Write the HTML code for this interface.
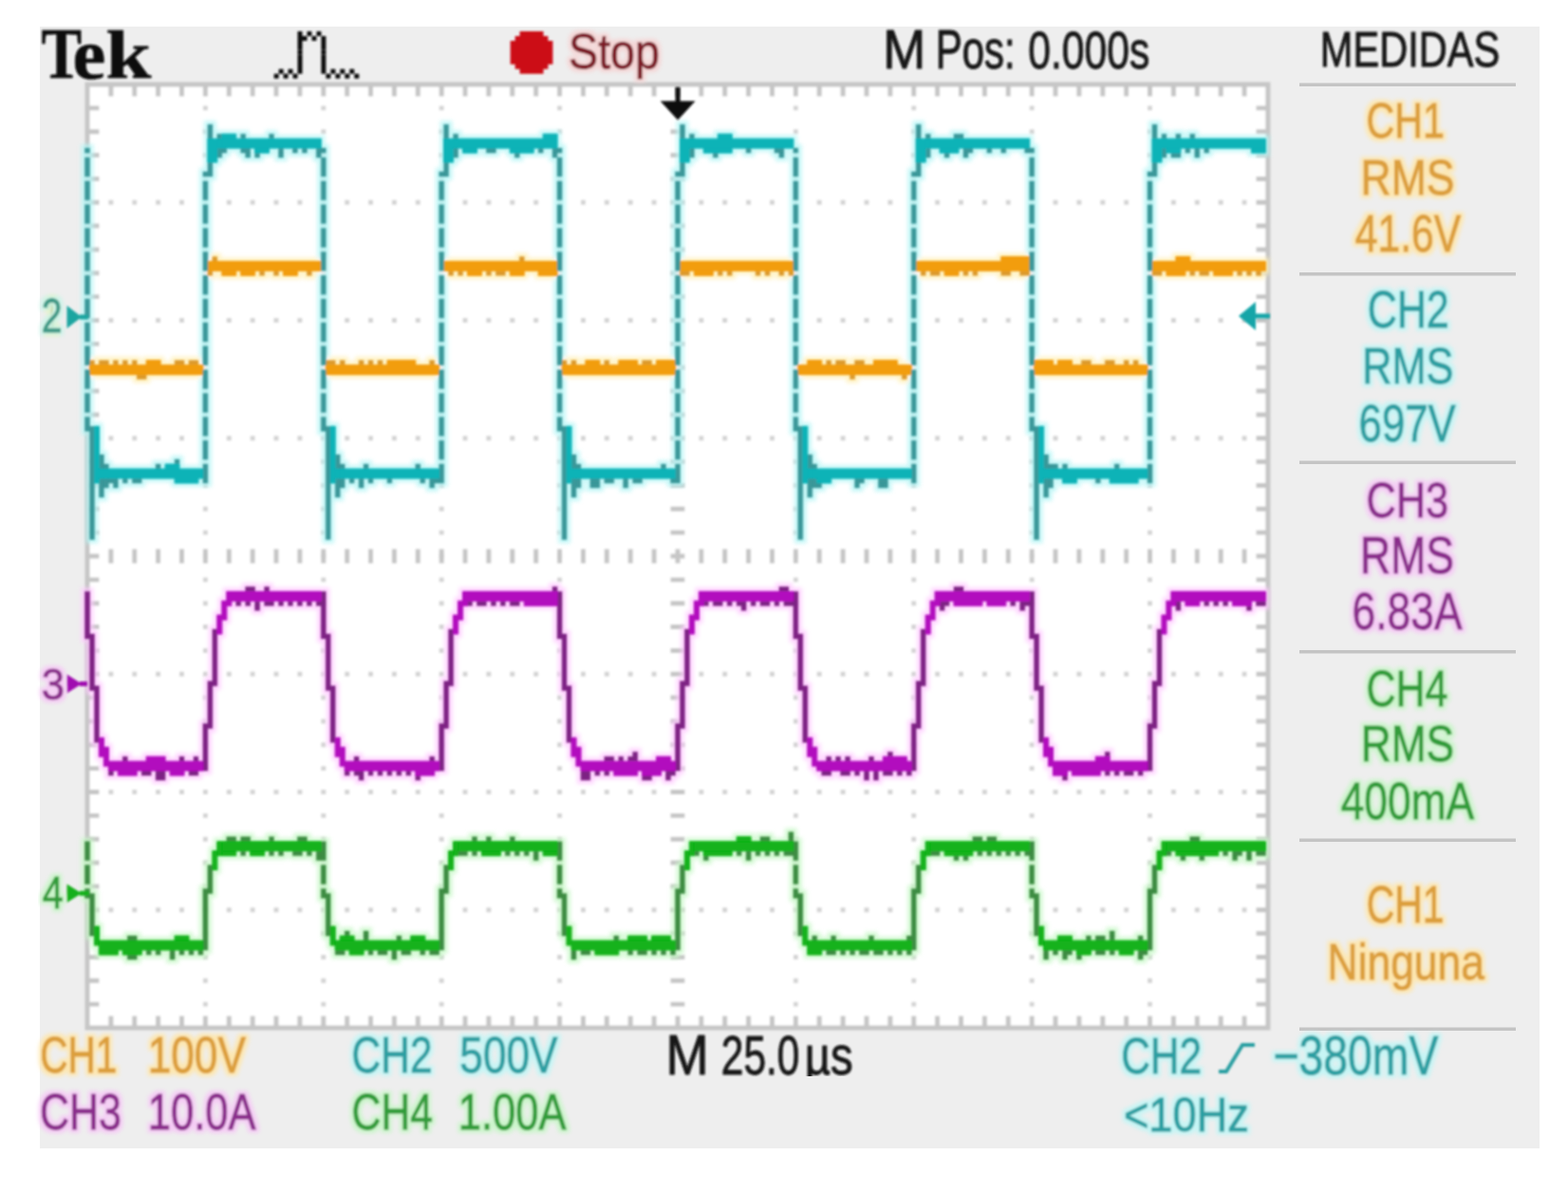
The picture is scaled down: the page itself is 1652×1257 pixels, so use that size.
<!DOCTYPE html>
<html><head><meta charset="utf-8"><title>Tek scope</title>
<style>html,body{margin:0;padding:0;background:#fff;width:1652px;height:1257px;overflow:hidden}svg{display:block}</style>
</head><body>
<svg width="1652" height="1257" viewBox="0 0 1652 1257">
<defs>
<clipPath id="muclip"><rect x="840" y="1080" width="70" height="54"/></clipPath>
<filter id="hbff6f6" x="-20%" y="-20%" width="140%" height="140%"><feMorphology in="SourceAlpha" operator="dilate" radius="3" result="d"/><feGaussianBlur in="d" stdDeviation="2" result="b"/><feFlood flood-color="#bff6f6" flood-opacity="0.9"/><feComposite in2="b" operator="in" result="h"/><feGaussianBlur in="SourceGraphic" stdDeviation="1.05" result="s"/><feMerge><feMergeNode in="h"/><feMergeNode in="s"/></feMerge></filter><filter id="hc6f6c6" x="-20%" y="-20%" width="140%" height="140%"><feMorphology in="SourceAlpha" operator="dilate" radius="3" result="d"/><feGaussianBlur in="d" stdDeviation="2" result="b"/><feFlood flood-color="#c6f6c6" flood-opacity="0.9"/><feComposite in2="b" operator="in" result="h"/><feGaussianBlur in="SourceGraphic" stdDeviation="1.05" result="s"/><feMerge><feMergeNode in="h"/><feMergeNode in="s"/></feMerge></filter><filter id="hc8f4e8" x="-20%" y="-20%" width="140%" height="140%"><feMorphology in="SourceAlpha" operator="dilate" radius="3" result="d"/><feGaussianBlur in="d" stdDeviation="2" result="b"/><feFlood flood-color="#c8f4e8" flood-opacity="0.9"/><feComposite in2="b" operator="in" result="h"/><feGaussianBlur in="SourceGraphic" stdDeviation="1.05" result="s"/><feMerge><feMergeNode in="h"/><feMergeNode in="s"/></feMerge></filter><filter id="hf6c6f6" x="-20%" y="-20%" width="140%" height="140%"><feMorphology in="SourceAlpha" operator="dilate" radius="3" result="d"/><feGaussianBlur in="d" stdDeviation="2" result="b"/><feFlood flood-color="#f6c6f6" flood-opacity="0.9"/><feComposite in2="b" operator="in" result="h"/><feGaussianBlur in="SourceGraphic" stdDeviation="1.05" result="s"/><feMerge><feMergeNode in="h"/><feMergeNode in="s"/></feMerge></filter><filter id="hf6d2d2" x="-20%" y="-20%" width="140%" height="140%"><feMorphology in="SourceAlpha" operator="dilate" radius="3" result="d"/><feGaussianBlur in="d" stdDeviation="2" result="b"/><feFlood flood-color="#f6d2d2" flood-opacity="0.9"/><feComposite in2="b" operator="in" result="h"/><feGaussianBlur in="SourceGraphic" stdDeviation="1.05" result="s"/><feMerge><feMergeNode in="h"/><feMergeNode in="s"/></feMerge></filter><filter id="hffe6a8" x="-20%" y="-20%" width="140%" height="140%"><feMorphology in="SourceAlpha" operator="dilate" radius="3" result="d"/><feGaussianBlur in="d" stdDeviation="2" result="b"/><feFlood flood-color="#ffe6a8" flood-opacity="0.9"/><feComposite in2="b" operator="in" result="h"/><feGaussianBlur in="SourceGraphic" stdDeviation="1.05" result="s"/><feMerge><feMergeNode in="h"/><feMergeNode in="s"/></feMerge></filter><filter id="hfff0b0" x="-20%" y="-20%" width="140%" height="140%"><feMorphology in="SourceAlpha" operator="dilate" radius="3" result="d"/><feGaussianBlur in="d" stdDeviation="2" result="b"/><feFlood flood-color="#fff0b0" flood-opacity="0.9"/><feComposite in2="b" operator="in" result="h"/><feGaussianBlur in="SourceGraphic" stdDeviation="1.05" result="s"/><feMerge><feMergeNode in="h"/><feMergeNode in="s"/></feMerge></filter>
<filter id="soft" x="-5%" y="-5%" width="110%" height="110%"><feGaussianBlur stdDeviation="1.05"/></filter>
<filter id="halo" x="-5%" y="-5%" width="110%" height="110%"><feMorphology operator="dilate" radius="3.5"/><feGaussianBlur stdDeviation="2"/></filter>
</defs>
<rect width="1652" height="1257" fill="#fff"/>
<rect x="42" y="28" width="1580" height="1182" fill="#eeeeee"/>
<g filter="url(#soft)">
<rect x="92.0" y="89.0" width="1243.9" height="994.0" fill="#fff"/>
<path d="M213.9 111.4H218.9V116.3H213.9ZM213.9 136.2H218.9V141.2H213.9ZM213.9 161.1H218.9V166.0H213.9ZM213.9 185.9H218.9V190.9H213.9ZM213.9 210.8H218.9V215.7H213.9ZM213.9 235.6H218.9V240.6H213.9ZM213.9 260.5H218.9V265.4H213.9ZM213.9 285.3H218.9V290.3H213.9ZM213.9 310.2H218.9V315.1H213.9ZM213.9 335.0H218.9V340.0H213.9ZM213.9 359.9H218.9V364.8H213.9ZM213.9 384.7H218.9V389.7H213.9ZM213.9 409.6H218.9V414.5H213.9ZM213.9 434.4H218.9V439.4H213.9ZM213.9 459.3H218.9V464.2H213.9ZM213.9 484.1H218.9V489.1H213.9ZM213.9 509.0H218.9V513.9H213.9ZM213.9 533.8H218.9V538.8H213.9ZM213.9 558.7H218.9V563.6H213.9ZM213.9 583.5H218.9V588.5H213.9ZM213.9 608.4H218.9V613.3H213.9ZM213.9 633.2H218.9V638.2H213.9ZM213.9 658.1H218.9V663.0H213.9ZM213.9 682.9H218.9V687.9H213.9ZM213.9 707.8H218.9V712.7H213.9ZM213.9 732.6H218.9V737.6H213.9ZM213.9 757.5H218.9V762.4H213.9ZM213.9 782.3H218.9V787.3H213.9ZM213.9 807.2H218.9V812.1H213.9ZM213.9 832.0H218.9V837.0H213.9ZM213.9 856.9H218.9V861.8H213.9ZM213.9 881.7H218.9V886.7H213.9ZM213.9 906.6H218.9V911.5H213.9ZM213.9 931.4H218.9V936.4H213.9ZM213.9 956.3H218.9V961.2H213.9ZM213.9 981.1H218.9V986.1H213.9ZM213.9 1006.0H218.9V1010.9H213.9ZM213.9 1030.8H218.9V1035.8H213.9ZM213.9 1055.7H218.9V1060.6H213.9ZM338.3 111.4H343.3V116.3H338.3ZM338.3 136.2H343.3V141.2H338.3ZM338.3 161.1H343.3V166.0H338.3ZM338.3 185.9H343.3V190.9H338.3ZM338.3 210.8H343.3V215.7H338.3ZM338.3 235.6H343.3V240.6H338.3ZM338.3 260.5H343.3V265.4H338.3ZM338.3 285.3H343.3V290.3H338.3ZM338.3 310.2H343.3V315.1H338.3ZM338.3 335.0H343.3V340.0H338.3ZM338.3 359.9H343.3V364.8H338.3ZM338.3 384.7H343.3V389.7H338.3ZM338.3 409.6H343.3V414.5H338.3ZM338.3 434.4H343.3V439.4H338.3ZM338.3 459.3H343.3V464.2H338.3ZM338.3 484.1H343.3V489.1H338.3ZM338.3 509.0H343.3V513.9H338.3ZM338.3 533.8H343.3V538.8H338.3ZM338.3 558.7H343.3V563.6H338.3ZM338.3 583.5H343.3V588.5H338.3ZM338.3 608.4H343.3V613.3H338.3ZM338.3 633.2H343.3V638.2H338.3ZM338.3 658.1H343.3V663.0H338.3ZM338.3 682.9H343.3V687.9H338.3ZM338.3 707.8H343.3V712.7H338.3ZM338.3 732.6H343.3V737.6H338.3ZM338.3 757.5H343.3V762.4H338.3ZM338.3 782.3H343.3V787.3H338.3ZM338.3 807.2H343.3V812.1H338.3ZM338.3 832.0H343.3V837.0H338.3ZM338.3 856.9H343.3V861.8H338.3ZM338.3 881.7H343.3V886.7H338.3ZM338.3 906.6H343.3V911.5H338.3ZM338.3 931.4H343.3V936.4H338.3ZM338.3 956.3H343.3V961.2H338.3ZM338.3 981.1H343.3V986.1H338.3ZM338.3 1006.0H343.3V1010.9H338.3ZM338.3 1030.8H343.3V1035.8H338.3ZM338.3 1055.7H343.3V1060.6H338.3ZM462.7 111.4H467.7V116.3H462.7ZM462.7 136.2H467.7V141.2H462.7ZM462.7 161.1H467.7V166.0H462.7ZM462.7 185.9H467.7V190.9H462.7ZM462.7 210.8H467.7V215.7H462.7ZM462.7 235.6H467.7V240.6H462.7ZM462.7 260.5H467.7V265.4H462.7ZM462.7 285.3H467.7V290.3H462.7ZM462.7 310.2H467.7V315.1H462.7ZM462.7 335.0H467.7V340.0H462.7ZM462.7 359.9H467.7V364.8H462.7ZM462.7 384.7H467.7V389.7H462.7ZM462.7 409.6H467.7V414.5H462.7ZM462.7 434.4H467.7V439.4H462.7ZM462.7 459.3H467.7V464.2H462.7ZM462.7 484.1H467.7V489.1H462.7ZM462.7 509.0H467.7V513.9H462.7ZM462.7 533.8H467.7V538.8H462.7ZM462.7 558.7H467.7V563.6H462.7ZM462.7 583.5H467.7V588.5H462.7ZM462.7 608.4H467.7V613.3H462.7ZM462.7 633.2H467.7V638.2H462.7ZM462.7 658.1H467.7V663.0H462.7ZM462.7 682.9H467.7V687.9H462.7ZM462.7 707.8H467.7V712.7H462.7ZM462.7 732.6H467.7V737.6H462.7ZM462.7 757.5H467.7V762.4H462.7ZM462.7 782.3H467.7V787.3H462.7ZM462.7 807.2H467.7V812.1H462.7ZM462.7 832.0H467.7V837.0H462.7ZM462.7 856.9H467.7V861.8H462.7ZM462.7 881.7H467.7V886.7H462.7ZM462.7 906.6H467.7V911.5H462.7ZM462.7 931.4H467.7V936.4H462.7ZM462.7 956.3H467.7V961.2H462.7ZM462.7 981.1H467.7V986.1H462.7ZM462.7 1006.0H467.7V1010.9H462.7ZM462.7 1030.8H467.7V1035.8H462.7ZM462.7 1055.7H467.7V1060.6H462.7ZM587.1 111.4H592.1V116.3H587.1ZM587.1 136.2H592.1V141.2H587.1ZM587.1 161.1H592.1V166.0H587.1ZM587.1 185.9H592.1V190.9H587.1ZM587.1 210.8H592.1V215.7H587.1ZM587.1 235.6H592.1V240.6H587.1ZM587.1 260.5H592.1V265.4H587.1ZM587.1 285.3H592.1V290.3H587.1ZM587.1 310.2H592.1V315.1H587.1ZM587.1 335.0H592.1V340.0H587.1ZM587.1 359.9H592.1V364.8H587.1ZM587.1 384.7H592.1V389.7H587.1ZM587.1 409.6H592.1V414.5H587.1ZM587.1 434.4H592.1V439.4H587.1ZM587.1 459.3H592.1V464.2H587.1ZM587.1 484.1H592.1V489.1H587.1ZM587.1 509.0H592.1V513.9H587.1ZM587.1 533.8H592.1V538.8H587.1ZM587.1 558.7H592.1V563.6H587.1ZM587.1 583.5H592.1V588.5H587.1ZM587.1 608.4H592.1V613.3H587.1ZM587.1 633.2H592.1V638.2H587.1ZM587.1 658.1H592.1V663.0H587.1ZM587.1 682.9H592.1V687.9H587.1ZM587.1 707.8H592.1V712.7H587.1ZM587.1 732.6H592.1V737.6H587.1ZM587.1 757.5H592.1V762.4H587.1ZM587.1 782.3H592.1V787.3H587.1ZM587.1 807.2H592.1V812.1H587.1ZM587.1 832.0H592.1V837.0H587.1ZM587.1 856.9H592.1V861.8H587.1ZM587.1 881.7H592.1V886.7H587.1ZM587.1 906.6H592.1V911.5H587.1ZM587.1 931.4H592.1V936.4H587.1ZM587.1 956.3H592.1V961.2H587.1ZM587.1 981.1H592.1V986.1H587.1ZM587.1 1006.0H592.1V1010.9H587.1ZM587.1 1030.8H592.1V1035.8H587.1ZM587.1 1055.7H592.1V1060.6H587.1ZM835.9 111.4H840.8V116.3H835.9ZM835.9 136.2H840.8V141.2H835.9ZM835.9 161.1H840.8V166.0H835.9ZM835.9 185.9H840.8V190.9H835.9ZM835.9 210.8H840.8V215.7H835.9ZM835.9 235.6H840.8V240.6H835.9ZM835.9 260.5H840.8V265.4H835.9ZM835.9 285.3H840.8V290.3H835.9ZM835.9 310.2H840.8V315.1H835.9ZM835.9 335.0H840.8V340.0H835.9ZM835.9 359.9H840.8V364.8H835.9ZM835.9 384.7H840.8V389.7H835.9ZM835.9 409.6H840.8V414.5H835.9ZM835.9 434.4H840.8V439.4H835.9ZM835.9 459.3H840.8V464.2H835.9ZM835.9 484.1H840.8V489.1H835.9ZM835.9 509.0H840.8V513.9H835.9ZM835.9 533.8H840.8V538.8H835.9ZM835.9 558.7H840.8V563.6H835.9ZM835.9 583.5H840.8V588.5H835.9ZM835.9 608.4H840.8V613.3H835.9ZM835.9 633.2H840.8V638.2H835.9ZM835.9 658.1H840.8V663.0H835.9ZM835.9 682.9H840.8V687.9H835.9ZM835.9 707.8H840.8V712.7H835.9ZM835.9 732.6H840.8V737.6H835.9ZM835.9 757.5H840.8V762.4H835.9ZM835.9 782.3H840.8V787.3H835.9ZM835.9 807.2H840.8V812.1H835.9ZM835.9 832.0H840.8V837.0H835.9ZM835.9 856.9H840.8V861.8H835.9ZM835.9 881.7H840.8V886.7H835.9ZM835.9 906.6H840.8V911.5H835.9ZM835.9 931.4H840.8V936.4H835.9ZM835.9 956.3H840.8V961.2H835.9ZM835.9 981.1H840.8V986.1H835.9ZM835.9 1006.0H840.8V1010.9H835.9ZM835.9 1030.8H840.8V1035.8H835.9ZM835.9 1055.7H840.8V1060.6H835.9ZM960.3 111.4H965.2V116.3H960.3ZM960.3 136.2H965.2V141.2H960.3ZM960.3 161.1H965.2V166.0H960.3ZM960.3 185.9H965.2V190.9H960.3ZM960.3 210.8H965.2V215.7H960.3ZM960.3 235.6H965.2V240.6H960.3ZM960.3 260.5H965.2V265.4H960.3ZM960.3 285.3H965.2V290.3H960.3ZM960.3 310.2H965.2V315.1H960.3ZM960.3 335.0H965.2V340.0H960.3ZM960.3 359.9H965.2V364.8H960.3ZM960.3 384.7H965.2V389.7H960.3ZM960.3 409.6H965.2V414.5H960.3ZM960.3 434.4H965.2V439.4H960.3ZM960.3 459.3H965.2V464.2H960.3ZM960.3 484.1H965.2V489.1H960.3ZM960.3 509.0H965.2V513.9H960.3ZM960.3 533.8H965.2V538.8H960.3ZM960.3 558.7H965.2V563.6H960.3ZM960.3 583.5H965.2V588.5H960.3ZM960.3 608.4H965.2V613.3H960.3ZM960.3 633.2H965.2V638.2H960.3ZM960.3 658.1H965.2V663.0H960.3ZM960.3 682.9H965.2V687.9H960.3ZM960.3 707.8H965.2V712.7H960.3ZM960.3 732.6H965.2V737.6H960.3ZM960.3 757.5H965.2V762.4H960.3ZM960.3 782.3H965.2V787.3H960.3ZM960.3 807.2H965.2V812.1H960.3ZM960.3 832.0H965.2V837.0H960.3ZM960.3 856.9H965.2V861.8H960.3ZM960.3 881.7H965.2V886.7H960.3ZM960.3 906.6H965.2V911.5H960.3ZM960.3 931.4H965.2V936.4H960.3ZM960.3 956.3H965.2V961.2H960.3ZM960.3 981.1H965.2V986.1H960.3ZM960.3 1006.0H965.2V1010.9H960.3ZM960.3 1030.8H965.2V1035.8H960.3ZM960.3 1055.7H965.2V1060.6H960.3ZM1084.7 111.4H1089.6V116.3H1084.7ZM1084.7 136.2H1089.6V141.2H1084.7ZM1084.7 161.1H1089.6V166.0H1084.7ZM1084.7 185.9H1089.6V190.9H1084.7ZM1084.7 210.8H1089.6V215.7H1084.7ZM1084.7 235.6H1089.6V240.6H1084.7ZM1084.7 260.5H1089.6V265.4H1084.7ZM1084.7 285.3H1089.6V290.3H1084.7ZM1084.7 310.2H1089.6V315.1H1084.7ZM1084.7 335.0H1089.6V340.0H1084.7ZM1084.7 359.9H1089.6V364.8H1084.7ZM1084.7 384.7H1089.6V389.7H1084.7ZM1084.7 409.6H1089.6V414.5H1084.7ZM1084.7 434.4H1089.6V439.4H1084.7ZM1084.7 459.3H1089.6V464.2H1084.7ZM1084.7 484.1H1089.6V489.1H1084.7ZM1084.7 509.0H1089.6V513.9H1084.7ZM1084.7 533.8H1089.6V538.8H1084.7ZM1084.7 558.7H1089.6V563.6H1084.7ZM1084.7 583.5H1089.6V588.5H1084.7ZM1084.7 608.4H1089.6V613.3H1084.7ZM1084.7 633.2H1089.6V638.2H1084.7ZM1084.7 658.1H1089.6V663.0H1084.7ZM1084.7 682.9H1089.6V687.9H1084.7ZM1084.7 707.8H1089.6V712.7H1084.7ZM1084.7 732.6H1089.6V737.6H1084.7ZM1084.7 757.5H1089.6V762.4H1084.7ZM1084.7 782.3H1089.6V787.3H1084.7ZM1084.7 807.2H1089.6V812.1H1084.7ZM1084.7 832.0H1089.6V837.0H1084.7ZM1084.7 856.9H1089.6V861.8H1084.7ZM1084.7 881.7H1089.6V886.7H1084.7ZM1084.7 906.6H1089.6V911.5H1084.7ZM1084.7 931.4H1089.6V936.4H1084.7ZM1084.7 956.3H1089.6V961.2H1084.7ZM1084.7 981.1H1089.6V986.1H1084.7ZM1084.7 1006.0H1089.6V1010.9H1084.7ZM1084.7 1030.8H1089.6V1035.8H1084.7ZM1084.7 1055.7H1089.6V1060.6H1084.7ZM1209.0 111.4H1214.0V116.3H1209.0ZM1209.0 136.2H1214.0V141.2H1209.0ZM1209.0 161.1H1214.0V166.0H1209.0ZM1209.0 185.9H1214.0V190.9H1209.0ZM1209.0 210.8H1214.0V215.7H1209.0ZM1209.0 235.6H1214.0V240.6H1209.0ZM1209.0 260.5H1214.0V265.4H1209.0ZM1209.0 285.3H1214.0V290.3H1209.0ZM1209.0 310.2H1214.0V315.1H1209.0ZM1209.0 335.0H1214.0V340.0H1209.0ZM1209.0 359.9H1214.0V364.8H1209.0ZM1209.0 384.7H1214.0V389.7H1209.0ZM1209.0 409.6H1214.0V414.5H1209.0ZM1209.0 434.4H1214.0V439.4H1209.0ZM1209.0 459.3H1214.0V464.2H1209.0ZM1209.0 484.1H1214.0V489.1H1209.0ZM1209.0 509.0H1214.0V513.9H1209.0ZM1209.0 533.8H1214.0V538.8H1209.0ZM1209.0 558.7H1214.0V563.6H1209.0ZM1209.0 583.5H1214.0V588.5H1209.0ZM1209.0 608.4H1214.0V613.3H1209.0ZM1209.0 633.2H1214.0V638.2H1209.0ZM1209.0 658.1H1214.0V663.0H1209.0ZM1209.0 682.9H1214.0V687.9H1209.0ZM1209.0 707.8H1214.0V712.7H1209.0ZM1209.0 732.6H1214.0V737.6H1209.0ZM1209.0 757.5H1214.0V762.4H1209.0ZM1209.0 782.3H1214.0V787.3H1209.0ZM1209.0 807.2H1214.0V812.1H1209.0ZM1209.0 832.0H1214.0V837.0H1209.0ZM1209.0 856.9H1214.0V861.8H1209.0ZM1209.0 881.7H1214.0V886.7H1209.0ZM1209.0 906.6H1214.0V911.5H1209.0ZM1209.0 931.4H1214.0V936.4H1209.0ZM1209.0 956.3H1214.0V961.2H1209.0ZM1209.0 981.1H1214.0V986.1H1209.0ZM1209.0 1006.0H1214.0V1010.9H1209.0ZM1209.0 1030.8H1214.0V1035.8H1209.0ZM1209.0 1055.7H1214.0V1060.6H1209.0ZM114.4 210.8H119.4V215.7H114.4ZM139.3 210.8H144.2V215.7H139.3ZM164.1 210.8H169.1V215.7H164.1ZM189.0 210.8H194.0V215.7H189.0ZM238.8 210.8H243.8V215.7H238.8ZM263.7 210.8H268.6V215.7H263.7ZM288.5 210.8H293.5V215.7H288.5ZM313.4 210.8H318.4V215.7H313.4ZM363.2 210.8H368.2V215.7H363.2ZM388.1 210.8H393.0V215.7H388.1ZM412.9 210.8H417.9V215.7H412.9ZM437.8 210.8H442.8V215.7H437.8ZM487.6 210.8H492.5V215.7H487.6ZM512.4 210.8H517.4V215.7H512.4ZM537.3 210.8H542.3V215.7H537.3ZM562.2 210.8H567.2V215.7H562.2ZM612.0 210.8H616.9V215.7H612.0ZM636.8 210.8H641.8V215.7H636.8ZM661.7 210.8H666.7V215.7H661.7ZM686.6 210.8H691.6V215.7H686.6ZM736.4 210.8H741.3V215.7H736.4ZM761.2 210.8H766.2V215.7H761.2ZM786.1 210.8H791.1V215.7H786.1ZM811.0 210.8H816.0V215.7H811.0ZM860.7 210.8H865.7V215.7H860.7ZM885.6 210.8H890.6V215.7H885.6ZM910.5 210.8H915.5V215.7H910.5ZM935.4 210.8H940.4V215.7H935.4ZM985.1 210.8H990.1V215.7H985.1ZM1010.0 210.8H1015.0V215.7H1010.0ZM1034.9 210.8H1039.9V215.7H1034.9ZM1059.8 210.8H1064.7V215.7H1059.8ZM1109.5 210.8H1114.5V215.7H1109.5ZM1134.4 210.8H1139.4V215.7H1134.4ZM1159.3 210.8H1164.3V215.7H1159.3ZM1184.2 210.8H1189.1V215.7H1184.2ZM1233.9 210.8H1238.9V215.7H1233.9ZM1258.8 210.8H1263.8V215.7H1258.8ZM1283.7 210.8H1288.7V215.7H1283.7ZM1308.6 210.8H1313.5V215.7H1308.6ZM114.4 335.0H119.4V340.0H114.4ZM139.3 335.0H144.2V340.0H139.3ZM164.1 335.0H169.1V340.0H164.1ZM189.0 335.0H194.0V340.0H189.0ZM238.8 335.0H243.8V340.0H238.8ZM263.7 335.0H268.6V340.0H263.7ZM288.5 335.0H293.5V340.0H288.5ZM313.4 335.0H318.4V340.0H313.4ZM363.2 335.0H368.2V340.0H363.2ZM388.1 335.0H393.0V340.0H388.1ZM412.9 335.0H417.9V340.0H412.9ZM437.8 335.0H442.8V340.0H437.8ZM487.6 335.0H492.5V340.0H487.6ZM512.4 335.0H517.4V340.0H512.4ZM537.3 335.0H542.3V340.0H537.3ZM562.2 335.0H567.2V340.0H562.2ZM612.0 335.0H616.9V340.0H612.0ZM636.8 335.0H641.8V340.0H636.8ZM661.7 335.0H666.7V340.0H661.7ZM686.6 335.0H691.6V340.0H686.6ZM736.4 335.0H741.3V340.0H736.4ZM761.2 335.0H766.2V340.0H761.2ZM786.1 335.0H791.1V340.0H786.1ZM811.0 335.0H816.0V340.0H811.0ZM860.7 335.0H865.7V340.0H860.7ZM885.6 335.0H890.6V340.0H885.6ZM910.5 335.0H915.5V340.0H910.5ZM935.4 335.0H940.4V340.0H935.4ZM985.1 335.0H990.1V340.0H985.1ZM1010.0 335.0H1015.0V340.0H1010.0ZM1034.9 335.0H1039.9V340.0H1034.9ZM1059.8 335.0H1064.7V340.0H1059.8ZM1109.5 335.0H1114.5V340.0H1109.5ZM1134.4 335.0H1139.4V340.0H1134.4ZM1159.3 335.0H1164.3V340.0H1159.3ZM1184.2 335.0H1189.1V340.0H1184.2ZM1233.9 335.0H1238.9V340.0H1233.9ZM1258.8 335.0H1263.8V340.0H1258.8ZM1283.7 335.0H1288.7V340.0H1283.7ZM1308.6 335.0H1313.5V340.0H1308.6ZM114.4 459.3H119.4V464.2H114.4ZM139.3 459.3H144.2V464.2H139.3ZM164.1 459.3H169.1V464.2H164.1ZM189.0 459.3H194.0V464.2H189.0ZM238.8 459.3H243.8V464.2H238.8ZM263.7 459.3H268.6V464.2H263.7ZM288.5 459.3H293.5V464.2H288.5ZM313.4 459.3H318.4V464.2H313.4ZM363.2 459.3H368.2V464.2H363.2ZM388.1 459.3H393.0V464.2H388.1ZM412.9 459.3H417.9V464.2H412.9ZM437.8 459.3H442.8V464.2H437.8ZM487.6 459.3H492.5V464.2H487.6ZM512.4 459.3H517.4V464.2H512.4ZM537.3 459.3H542.3V464.2H537.3ZM562.2 459.3H567.2V464.2H562.2ZM612.0 459.3H616.9V464.2H612.0ZM636.8 459.3H641.8V464.2H636.8ZM661.7 459.3H666.7V464.2H661.7ZM686.6 459.3H691.6V464.2H686.6ZM736.4 459.3H741.3V464.2H736.4ZM761.2 459.3H766.2V464.2H761.2ZM786.1 459.3H791.1V464.2H786.1ZM811.0 459.3H816.0V464.2H811.0ZM860.7 459.3H865.7V464.2H860.7ZM885.6 459.3H890.6V464.2H885.6ZM910.5 459.3H915.5V464.2H910.5ZM935.4 459.3H940.4V464.2H935.4ZM985.1 459.3H990.1V464.2H985.1ZM1010.0 459.3H1015.0V464.2H1010.0ZM1034.9 459.3H1039.9V464.2H1034.9ZM1059.8 459.3H1064.7V464.2H1059.8ZM1109.5 459.3H1114.5V464.2H1109.5ZM1134.4 459.3H1139.4V464.2H1134.4ZM1159.3 459.3H1164.3V464.2H1159.3ZM1184.2 459.3H1189.1V464.2H1184.2ZM1233.9 459.3H1238.9V464.2H1233.9ZM1258.8 459.3H1263.8V464.2H1258.8ZM1283.7 459.3H1288.7V464.2H1283.7ZM1308.6 459.3H1313.5V464.2H1308.6ZM114.4 707.8H119.4V712.7H114.4ZM139.3 707.8H144.2V712.7H139.3ZM164.1 707.8H169.1V712.7H164.1ZM189.0 707.8H194.0V712.7H189.0ZM238.8 707.8H243.8V712.7H238.8ZM263.7 707.8H268.6V712.7H263.7ZM288.5 707.8H293.5V712.7H288.5ZM313.4 707.8H318.4V712.7H313.4ZM363.2 707.8H368.2V712.7H363.2ZM388.1 707.8H393.0V712.7H388.1ZM412.9 707.8H417.9V712.7H412.9ZM437.8 707.8H442.8V712.7H437.8ZM487.6 707.8H492.5V712.7H487.6ZM512.4 707.8H517.4V712.7H512.4ZM537.3 707.8H542.3V712.7H537.3ZM562.2 707.8H567.2V712.7H562.2ZM612.0 707.8H616.9V712.7H612.0ZM636.8 707.8H641.8V712.7H636.8ZM661.7 707.8H666.7V712.7H661.7ZM686.6 707.8H691.6V712.7H686.6ZM736.4 707.8H741.3V712.7H736.4ZM761.2 707.8H766.2V712.7H761.2ZM786.1 707.8H791.1V712.7H786.1ZM811.0 707.8H816.0V712.7H811.0ZM860.7 707.8H865.7V712.7H860.7ZM885.6 707.8H890.6V712.7H885.6ZM910.5 707.8H915.5V712.7H910.5ZM935.4 707.8H940.4V712.7H935.4ZM985.1 707.8H990.1V712.7H985.1ZM1010.0 707.8H1015.0V712.7H1010.0ZM1034.9 707.8H1039.9V712.7H1034.9ZM1059.8 707.8H1064.7V712.7H1059.8ZM1109.5 707.8H1114.5V712.7H1109.5ZM1134.4 707.8H1139.4V712.7H1134.4ZM1159.3 707.8H1164.3V712.7H1159.3ZM1184.2 707.8H1189.1V712.7H1184.2ZM1233.9 707.8H1238.9V712.7H1233.9ZM1258.8 707.8H1263.8V712.7H1258.8ZM1283.7 707.8H1288.7V712.7H1283.7ZM1308.6 707.8H1313.5V712.7H1308.6ZM114.4 832.0H119.4V837.0H114.4ZM139.3 832.0H144.2V837.0H139.3ZM164.1 832.0H169.1V837.0H164.1ZM189.0 832.0H194.0V837.0H189.0ZM238.8 832.0H243.8V837.0H238.8ZM263.7 832.0H268.6V837.0H263.7ZM288.5 832.0H293.5V837.0H288.5ZM313.4 832.0H318.4V837.0H313.4ZM363.2 832.0H368.2V837.0H363.2ZM388.1 832.0H393.0V837.0H388.1ZM412.9 832.0H417.9V837.0H412.9ZM437.8 832.0H442.8V837.0H437.8ZM487.6 832.0H492.5V837.0H487.6ZM512.4 832.0H517.4V837.0H512.4ZM537.3 832.0H542.3V837.0H537.3ZM562.2 832.0H567.2V837.0H562.2ZM612.0 832.0H616.9V837.0H612.0ZM636.8 832.0H641.8V837.0H636.8ZM661.7 832.0H666.7V837.0H661.7ZM686.6 832.0H691.6V837.0H686.6ZM736.4 832.0H741.3V837.0H736.4ZM761.2 832.0H766.2V837.0H761.2ZM786.1 832.0H791.1V837.0H786.1ZM811.0 832.0H816.0V837.0H811.0ZM860.7 832.0H865.7V837.0H860.7ZM885.6 832.0H890.6V837.0H885.6ZM910.5 832.0H915.5V837.0H910.5ZM935.4 832.0H940.4V837.0H935.4ZM985.1 832.0H990.1V837.0H985.1ZM1010.0 832.0H1015.0V837.0H1010.0ZM1034.9 832.0H1039.9V837.0H1034.9ZM1059.8 832.0H1064.7V837.0H1059.8ZM1109.5 832.0H1114.5V837.0H1109.5ZM1134.4 832.0H1139.4V837.0H1134.4ZM1159.3 832.0H1164.3V837.0H1159.3ZM1184.2 832.0H1189.1V837.0H1184.2ZM1233.9 832.0H1238.9V837.0H1233.9ZM1258.8 832.0H1263.8V837.0H1258.8ZM1283.7 832.0H1288.7V837.0H1283.7ZM1308.6 832.0H1313.5V837.0H1308.6ZM114.4 956.3H119.4V961.2H114.4ZM139.3 956.3H144.2V961.2H139.3ZM164.1 956.3H169.1V961.2H164.1ZM189.0 956.3H194.0V961.2H189.0ZM238.8 956.3H243.8V961.2H238.8ZM263.7 956.3H268.6V961.2H263.7ZM288.5 956.3H293.5V961.2H288.5ZM313.4 956.3H318.4V961.2H313.4ZM363.2 956.3H368.2V961.2H363.2ZM388.1 956.3H393.0V961.2H388.1ZM412.9 956.3H417.9V961.2H412.9ZM437.8 956.3H442.8V961.2H437.8ZM487.6 956.3H492.5V961.2H487.6ZM512.4 956.3H517.4V961.2H512.4ZM537.3 956.3H542.3V961.2H537.3ZM562.2 956.3H567.2V961.2H562.2ZM612.0 956.3H616.9V961.2H612.0ZM636.8 956.3H641.8V961.2H636.8ZM661.7 956.3H666.7V961.2H661.7ZM686.6 956.3H691.6V961.2H686.6ZM736.4 956.3H741.3V961.2H736.4ZM761.2 956.3H766.2V961.2H761.2ZM786.1 956.3H791.1V961.2H786.1ZM811.0 956.3H816.0V961.2H811.0ZM860.7 956.3H865.7V961.2H860.7ZM885.6 956.3H890.6V961.2H885.6ZM910.5 956.3H915.5V961.2H910.5ZM935.4 956.3H940.4V961.2H935.4ZM985.1 956.3H990.1V961.2H985.1ZM1010.0 956.3H1015.0V961.2H1010.0ZM1034.9 956.3H1039.9V961.2H1034.9ZM1059.8 956.3H1064.7V961.2H1059.8ZM1109.5 956.3H1114.5V961.2H1109.5ZM1134.4 956.3H1139.4V961.2H1134.4ZM1159.3 956.3H1164.3V961.2H1159.3ZM1184.2 956.3H1189.1V961.2H1184.2ZM1233.9 956.3H1238.9V961.2H1233.9ZM1258.8 956.3H1263.8V961.2H1258.8ZM1283.7 956.3H1288.7V961.2H1283.7ZM1308.6 956.3H1313.5V961.2H1308.6Z" fill="#d4d4d4"/>
<path d="M89.5 86.5H94.5V1085.5H89.5ZM1333.4 86.5H1338.4V1085.5H1333.4ZM89.5 86.5H1338.4V91.5H89.5ZM89.5 1080.5H1338.4V1085.5H89.5ZM114.4 91.5H119.4V101.4H114.4ZM114.4 1070.6H119.4V1080.5H114.4ZM139.3 91.5H144.2V101.4H139.3ZM139.3 1070.6H144.2V1080.5H139.3ZM164.1 91.5H169.1V101.4H164.1ZM164.1 1070.6H169.1V1080.5H164.1ZM189.0 91.5H194.0V101.4H189.0ZM189.0 1070.6H194.0V1080.5H189.0ZM213.9 91.5H218.9V101.4H213.9ZM213.9 1070.6H218.9V1080.5H213.9ZM238.8 91.5H243.8V101.4H238.8ZM238.8 1070.6H243.8V1080.5H238.8ZM263.7 91.5H268.6V101.4H263.7ZM263.7 1070.6H268.6V1080.5H263.7ZM288.5 91.5H293.5V101.4H288.5ZM288.5 1070.6H293.5V1080.5H288.5ZM313.4 91.5H318.4V101.4H313.4ZM313.4 1070.6H318.4V1080.5H313.4ZM338.3 91.5H343.3V101.4H338.3ZM338.3 1070.6H343.3V1080.5H338.3ZM363.2 91.5H368.2V101.4H363.2ZM363.2 1070.6H368.2V1080.5H363.2ZM388.1 91.5H393.0V101.4H388.1ZM388.1 1070.6H393.0V1080.5H388.1ZM412.9 91.5H417.9V101.4H412.9ZM412.9 1070.6H417.9V1080.5H412.9ZM437.8 91.5H442.8V101.4H437.8ZM437.8 1070.6H442.8V1080.5H437.8ZM462.7 91.5H467.7V101.4H462.7ZM462.7 1070.6H467.7V1080.5H462.7ZM487.6 91.5H492.5V101.4H487.6ZM487.6 1070.6H492.5V1080.5H487.6ZM512.4 91.5H517.4V101.4H512.4ZM512.4 1070.6H517.4V1080.5H512.4ZM537.3 91.5H542.3V101.4H537.3ZM537.3 1070.6H542.3V1080.5H537.3ZM562.2 91.5H567.2V101.4H562.2ZM562.2 1070.6H567.2V1080.5H562.2ZM587.1 91.5H592.1V101.4H587.1ZM587.1 1070.6H592.1V1080.5H587.1ZM612.0 91.5H616.9V101.4H612.0ZM612.0 1070.6H616.9V1080.5H612.0ZM636.8 91.5H641.8V101.4H636.8ZM636.8 1070.6H641.8V1080.5H636.8ZM661.7 91.5H666.7V101.4H661.7ZM661.7 1070.6H666.7V1080.5H661.7ZM686.6 91.5H691.6V101.4H686.6ZM686.6 1070.6H691.6V1080.5H686.6ZM711.5 91.5H716.5V101.4H711.5ZM711.5 1070.6H716.5V1080.5H711.5ZM736.4 91.5H741.3V101.4H736.4ZM736.4 1070.6H741.3V1080.5H736.4ZM761.2 91.5H766.2V101.4H761.2ZM761.2 1070.6H766.2V1080.5H761.2ZM786.1 91.5H791.1V101.4H786.1ZM786.1 1070.6H791.1V1080.5H786.1ZM811.0 91.5H816.0V101.4H811.0ZM811.0 1070.6H816.0V1080.5H811.0ZM835.9 91.5H840.8V101.4H835.9ZM835.9 1070.6H840.8V1080.5H835.9ZM860.7 91.5H865.7V101.4H860.7ZM860.7 1070.6H865.7V1080.5H860.7ZM885.6 91.5H890.6V101.4H885.6ZM885.6 1070.6H890.6V1080.5H885.6ZM910.5 91.5H915.5V101.4H910.5ZM910.5 1070.6H915.5V1080.5H910.5ZM935.4 91.5H940.4V101.4H935.4ZM935.4 1070.6H940.4V1080.5H935.4ZM960.3 91.5H965.2V101.4H960.3ZM960.3 1070.6H965.2V1080.5H960.3ZM985.1 91.5H990.1V101.4H985.1ZM985.1 1070.6H990.1V1080.5H985.1ZM1010.0 91.5H1015.0V101.4H1010.0ZM1010.0 1070.6H1015.0V1080.5H1010.0ZM1034.9 91.5H1039.9V101.4H1034.9ZM1034.9 1070.6H1039.9V1080.5H1034.9ZM1059.8 91.5H1064.7V101.4H1059.8ZM1059.8 1070.6H1064.7V1080.5H1059.8ZM1084.7 91.5H1089.6V101.4H1084.7ZM1084.7 1070.6H1089.6V1080.5H1084.7ZM1109.5 91.5H1114.5V101.4H1109.5ZM1109.5 1070.6H1114.5V1080.5H1109.5ZM1134.4 91.5H1139.4V101.4H1134.4ZM1134.4 1070.6H1139.4V1080.5H1134.4ZM1159.3 91.5H1164.3V101.4H1159.3ZM1159.3 1070.6H1164.3V1080.5H1159.3ZM1184.2 91.5H1189.1V101.4H1184.2ZM1184.2 1070.6H1189.1V1080.5H1184.2ZM1209.0 91.5H1214.0V101.4H1209.0ZM1209.0 1070.6H1214.0V1080.5H1209.0ZM1233.9 91.5H1238.9V101.4H1233.9ZM1233.9 1070.6H1238.9V1080.5H1233.9ZM1258.8 91.5H1263.8V101.4H1258.8ZM1258.8 1070.6H1263.8V1080.5H1258.8ZM1283.7 91.5H1288.7V101.4H1283.7ZM1283.7 1070.6H1288.7V1080.5H1283.7ZM1308.6 91.5H1313.5V101.4H1308.6ZM1308.6 1070.6H1313.5V1080.5H1308.6ZM94.5 111.4H104.4V116.3H94.5ZM1323.5 111.4H1333.4V116.3H1323.5ZM94.5 136.2H104.4V141.2H94.5ZM1323.5 136.2H1333.4V141.2H1323.5ZM94.5 161.1H104.4V166.0H94.5ZM1323.5 161.1H1333.4V166.0H1323.5ZM94.5 185.9H104.4V190.9H94.5ZM1323.5 185.9H1333.4V190.9H1323.5ZM94.5 210.8H104.4V215.7H94.5ZM1323.5 210.8H1333.4V215.7H1323.5ZM94.5 235.6H104.4V240.6H94.5ZM1323.5 235.6H1333.4V240.6H1323.5ZM94.5 260.5H104.4V265.4H94.5ZM1323.5 260.5H1333.4V265.4H1323.5ZM94.5 285.3H104.4V290.3H94.5ZM1323.5 285.3H1333.4V290.3H1323.5ZM94.5 310.2H104.4V315.1H94.5ZM1323.5 310.2H1333.4V315.1H1323.5ZM94.5 335.0H104.4V340.0H94.5ZM1323.5 335.0H1333.4V340.0H1323.5ZM94.5 359.9H104.4V364.8H94.5ZM1323.5 359.9H1333.4V364.8H1323.5ZM94.5 384.7H104.4V389.7H94.5ZM1323.5 384.7H1333.4V389.7H1323.5ZM94.5 409.6H104.4V414.5H94.5ZM1323.5 409.6H1333.4V414.5H1323.5ZM94.5 434.4H104.4V439.4H94.5ZM1323.5 434.4H1333.4V439.4H1323.5ZM94.5 459.3H104.4V464.2H94.5ZM1323.5 459.3H1333.4V464.2H1323.5ZM94.5 484.1H104.4V489.1H94.5ZM1323.5 484.1H1333.4V489.1H1323.5ZM94.5 509.0H104.4V513.9H94.5ZM1323.5 509.0H1333.4V513.9H1323.5ZM94.5 533.8H104.4V538.8H94.5ZM1323.5 533.8H1333.4V538.8H1323.5ZM94.5 558.7H104.4V563.6H94.5ZM1323.5 558.7H1333.4V563.6H1323.5ZM94.5 583.5H104.4V588.5H94.5ZM1323.5 583.5H1333.4V588.5H1323.5ZM94.5 608.4H104.4V613.3H94.5ZM1323.5 608.4H1333.4V613.3H1323.5ZM94.5 633.2H104.4V638.2H94.5ZM1323.5 633.2H1333.4V638.2H1323.5ZM94.5 658.1H104.4V663.0H94.5ZM1323.5 658.1H1333.4V663.0H1323.5ZM94.5 682.9H104.4V687.9H94.5ZM1323.5 682.9H1333.4V687.9H1323.5ZM94.5 707.8H104.4V712.7H94.5ZM1323.5 707.8H1333.4V712.7H1323.5ZM94.5 732.6H104.4V737.6H94.5ZM1323.5 732.6H1333.4V737.6H1323.5ZM94.5 757.5H104.4V762.4H94.5ZM1323.5 757.5H1333.4V762.4H1323.5ZM94.5 782.3H104.4V787.3H94.5ZM1323.5 782.3H1333.4V787.3H1323.5ZM94.5 807.2H104.4V812.1H94.5ZM1323.5 807.2H1333.4V812.1H1323.5ZM94.5 832.0H104.4V837.0H94.5ZM1323.5 832.0H1333.4V837.0H1323.5ZM94.5 856.9H104.4V861.8H94.5ZM1323.5 856.9H1333.4V861.8H1323.5ZM94.5 881.7H104.4V886.7H94.5ZM1323.5 881.7H1333.4V886.7H1323.5ZM94.5 906.6H104.4V911.5H94.5ZM1323.5 906.6H1333.4V911.5H1323.5ZM94.5 931.4H104.4V936.4H94.5ZM1323.5 931.4H1333.4V936.4H1323.5ZM94.5 956.3H104.4V961.2H94.5ZM1323.5 956.3H1333.4V961.2H1323.5ZM94.5 981.1H104.4V986.1H94.5ZM1323.5 981.1H1333.4V986.1H1323.5ZM94.5 1006.0H104.4V1010.9H94.5ZM1323.5 1006.0H1333.4V1010.9H1323.5ZM94.5 1030.8H104.4V1035.8H94.5ZM1323.5 1030.8H1333.4V1035.8H1323.5ZM94.5 1055.7H104.4V1060.6H94.5ZM1323.5 1055.7H1333.4V1060.6H1323.5ZM114.4 578.5H119.4V593.5H114.4ZM139.3 578.5H144.2V593.5H139.3ZM164.1 578.5H169.1V593.5H164.1ZM189.0 578.5H194.0V593.5H189.0ZM213.9 578.5H218.9V593.5H213.9ZM238.8 578.5H243.8V593.5H238.8ZM263.7 578.5H268.6V593.5H263.7ZM288.5 578.5H293.5V593.5H288.5ZM313.4 578.5H318.4V593.5H313.4ZM338.3 578.5H343.3V593.5H338.3ZM363.2 578.5H368.2V593.5H363.2ZM388.1 578.5H393.0V593.5H388.1ZM412.9 578.5H417.9V593.5H412.9ZM437.8 578.5H442.8V593.5H437.8ZM462.7 578.5H467.7V593.5H462.7ZM487.6 578.5H492.5V593.5H487.6ZM512.4 578.5H517.4V593.5H512.4ZM537.3 578.5H542.3V593.5H537.3ZM562.2 578.5H567.2V593.5H562.2ZM587.1 578.5H592.1V593.5H587.1ZM612.0 578.5H616.9V593.5H612.0ZM636.8 578.5H641.8V593.5H636.8ZM661.7 578.5H666.7V593.5H661.7ZM686.6 578.5H691.6V593.5H686.6ZM711.5 578.5H716.5V593.5H711.5ZM736.4 578.5H741.3V593.5H736.4ZM761.2 578.5H766.2V593.5H761.2ZM786.1 578.5H791.1V593.5H786.1ZM811.0 578.5H816.0V593.5H811.0ZM835.9 578.5H840.8V593.5H835.9ZM860.7 578.5H865.7V593.5H860.7ZM885.6 578.5H890.6V593.5H885.6ZM910.5 578.5H915.5V593.5H910.5ZM935.4 578.5H940.4V593.5H935.4ZM960.3 578.5H965.2V593.5H960.3ZM985.1 578.5H990.1V593.5H985.1ZM1010.0 578.5H1015.0V593.5H1010.0ZM1034.9 578.5H1039.9V593.5H1034.9ZM1059.8 578.5H1064.7V593.5H1059.8ZM1084.7 578.5H1089.6V593.5H1084.7ZM1109.5 578.5H1114.5V593.5H1109.5ZM1134.4 578.5H1139.4V593.5H1134.4ZM1159.3 578.5H1164.3V593.5H1159.3ZM1184.2 578.5H1189.1V593.5H1184.2ZM1209.0 578.5H1214.0V593.5H1209.0ZM1233.9 578.5H1238.9V593.5H1233.9ZM1258.8 578.5H1263.8V593.5H1258.8ZM1283.7 578.5H1288.7V593.5H1283.7ZM1308.6 578.5H1313.5V593.5H1308.6ZM706.5 111.4H721.4V116.3H706.5ZM706.5 136.2H721.4V141.2H706.5ZM706.5 161.1H721.4V166.0H706.5ZM706.5 185.9H721.4V190.9H706.5ZM706.5 210.8H721.4V215.7H706.5ZM706.5 235.6H721.4V240.6H706.5ZM706.5 260.5H721.4V265.4H706.5ZM706.5 285.3H721.4V290.3H706.5ZM706.5 310.2H721.4V315.1H706.5ZM706.5 335.0H721.4V340.0H706.5ZM706.5 359.9H721.4V364.8H706.5ZM706.5 384.7H721.4V389.7H706.5ZM706.5 409.6H721.4V414.5H706.5ZM706.5 434.4H721.4V439.4H706.5ZM706.5 459.3H721.4V464.2H706.5ZM706.5 484.1H721.4V489.1H706.5ZM706.5 509.0H721.4V513.9H706.5ZM706.5 533.8H721.4V538.8H706.5ZM706.5 558.7H721.4V563.6H706.5ZM706.5 583.5H721.4V588.5H706.5ZM706.5 608.4H721.4V613.3H706.5ZM706.5 633.2H721.4V638.2H706.5ZM706.5 658.1H721.4V663.0H706.5ZM706.5 682.9H721.4V687.9H706.5ZM706.5 707.8H721.4V712.7H706.5ZM706.5 732.6H721.4V737.6H706.5ZM706.5 757.5H721.4V762.4H706.5ZM706.5 782.3H721.4V787.3H706.5ZM706.5 807.2H721.4V812.1H706.5ZM706.5 832.0H721.4V837.0H706.5ZM706.5 856.9H721.4V861.8H706.5ZM706.5 881.7H721.4V886.7H706.5ZM706.5 906.6H721.4V911.5H706.5ZM706.5 931.4H721.4V936.4H706.5ZM706.5 956.3H721.4V961.2H706.5ZM706.5 981.1H721.4V986.1H706.5ZM706.5 1006.0H721.4V1010.9H706.5ZM706.5 1030.8H721.4V1035.8H706.5ZM706.5 1055.7H721.4V1060.6H706.5Z" fill="#c6c6c6"/>
</g>
<g opacity="0.8" filter="url(#halo)">
<path d="M94.5 384.7H213.9V394.7H94.5ZM154.2 379.7H169.1V384.7H154.2ZM218.9 275.4H338.3V285.3H218.9ZM233.8 285.3H248.7V290.3H233.8ZM253.7 285.3H268.6V290.3H253.7ZM298.5 285.3H313.4V290.3H298.5ZM343.3 384.7H462.7V394.7H343.3ZM408.0 379.7H437.8V384.7H408.0ZM467.7 275.4H587.1V285.3H467.7ZM492.5 285.3H507.5V290.3H492.5ZM537.3 285.3H552.3V290.3H537.3ZM567.2 285.3H587.1V290.3H567.2ZM592.1 384.7H711.5V394.7H592.1ZM616.9 379.7H631.9V384.7H616.9ZM651.8 379.7H671.7V384.7H651.8ZM691.6 379.7H711.5V384.7H691.6ZM716.5 275.4H835.9V285.3H716.5ZM731.4 285.3H751.3V290.3H731.4ZM840.8 384.7H960.3V394.7H840.8ZM850.8 379.7H865.7V384.7H850.8ZM920.5 379.7H945.3V384.7H920.5ZM965.2 275.4H1084.7V285.3H965.2ZM1054.8 270.4H1084.7V275.4H1054.8ZM995.1 285.3H1010.0V290.3H995.1ZM1089.6 384.7H1209.0V394.7H1089.6ZM1089.6 379.7H1109.5V384.7H1089.6ZM1114.5 379.7H1129.4V384.7H1114.5ZM1214.0 275.4H1333.4V285.3H1214.0ZM1238.9 270.4H1253.8V275.4H1238.9ZM1228.9 285.3H1248.9V290.3H1228.9ZM1278.7 285.3H1298.6V290.3H1278.7ZM94.5 379.7H99.5V384.7H94.5ZM104.4 379.7H114.4V384.7H104.4ZM119.4 379.7H124.3V384.7H119.4ZM129.3 379.7H134.3V384.7H129.3ZM139.3 379.7H144.2V384.7H139.3ZM184.1 379.7H194.0V384.7H184.1ZM199.0 379.7H208.9V384.7H199.0ZM144.2 394.7H154.2V399.6H144.2ZM223.9 270.4H228.8V275.4H223.9ZM218.9 285.3H223.9V290.3H218.9ZM273.6 285.3H278.6V290.3H273.6ZM288.5 285.3H293.5V290.3H288.5ZM323.4 285.3H328.3V290.3H323.4ZM343.3 379.7H353.2V384.7H343.3ZM358.2 379.7H363.2V384.7H358.2ZM378.1 379.7H383.1V384.7H378.1ZM388.1 379.7H393.0V384.7H388.1ZM398.0 379.7H403.0V384.7H398.0ZM452.7 379.7H457.7V384.7H452.7ZM547.3 270.4H552.3V275.4H547.3ZM472.6 285.3H477.6V290.3H472.6ZM482.6 285.3H487.6V290.3H482.6ZM512.4 285.3H517.4V290.3H512.4ZM522.4 285.3H532.3V290.3H522.4ZM592.1 379.7H597.0V384.7H592.1ZM602.0 379.7H607.0V384.7H602.0ZM636.8 379.7H641.8V384.7H636.8ZM676.6 379.7H686.6V384.7H676.6ZM716.5 285.3H726.4V290.3H716.5ZM756.3 285.3H761.2V290.3H756.3ZM766.2 285.3H771.2V290.3H766.2ZM796.1 285.3H801.0V290.3H796.1ZM806.0 285.3H811.0V290.3H806.0ZM820.9 285.3H825.9V290.3H820.9ZM830.9 285.3H835.9V290.3H830.9ZM870.7 379.7H875.7V384.7H870.7ZM880.6 379.7H890.6V384.7H880.6ZM900.6 379.7H910.5V384.7H900.6ZM895.6 394.7H900.6V399.6H895.6ZM950.3 394.7H955.3V399.6H950.3ZM970.2 285.3H975.2V290.3H970.2ZM980.2 285.3H990.1V290.3H980.2ZM1015.0 285.3H1020.0V290.3H1015.0ZM1024.9 285.3H1029.9V290.3H1024.9ZM1054.8 285.3H1064.7V290.3H1054.8ZM1074.7 285.3H1084.7V290.3H1074.7ZM1139.4 379.7H1149.3V384.7H1139.4ZM1164.3 379.7H1174.2V384.7H1164.3ZM1184.2 379.7H1189.1V384.7H1184.2ZM1194.1 379.7H1199.1V384.7H1194.1ZM1214.0 285.3H1224.0V290.3H1214.0ZM1253.8 285.3H1258.8V290.3H1253.8ZM1263.8 285.3H1273.7V290.3H1263.8ZM1303.6 285.3H1308.6V290.3H1303.6ZM1313.5 285.3H1318.5V290.3H1313.5ZM1323.5 285.3H1328.5V290.3H1323.5Z" fill="#fff0b8"/>
<path d="M99.5 449.3H104.4V509.0H99.5ZM104.4 494.1H109.4V504.0H104.4ZM109.4 494.1H114.4V504.0H109.4ZM114.4 494.1H213.9V504.0H114.4ZM174.1 489.1H189.0V494.1H174.1ZM184.1 504.0H208.9V509.0H184.1ZM218.9 146.2H228.8V171.0H218.9ZM228.8 146.2H233.8V156.1H228.8ZM233.8 146.2H338.3V156.1H233.8ZM233.8 141.2H248.7V146.2H233.8ZM268.6 156.1H283.6V161.1H268.6ZM348.2 449.3H353.2V509.0H348.2ZM353.2 494.1H358.2V504.0H353.2ZM358.2 494.1H363.2V504.0H358.2ZM363.2 494.1H462.7V504.0H363.2ZM467.7 146.2H477.6V171.0H467.7ZM477.6 146.2H482.6V156.1H477.6ZM482.6 146.2H587.1V156.1H482.6ZM572.2 141.2H587.1V146.2H572.2ZM487.6 156.1H502.5V161.1H487.6ZM537.3 156.1H562.2V161.1H537.3ZM597.0 449.3H602.0V509.0H597.0ZM602.0 494.1H607.0V504.0H602.0ZM607.0 494.1H612.0V504.0H607.0ZM612.0 494.1H711.5V504.0H612.0ZM716.5 146.2H726.4V171.0H716.5ZM726.4 146.2H731.4V156.1H726.4ZM731.4 146.2H835.9V156.1H731.4ZM756.3 141.2H771.2V146.2H756.3ZM741.3 156.1H771.2V161.1H741.3ZM845.8 449.3H850.8V509.0H845.8ZM850.8 494.1H855.8V504.0H850.8ZM855.8 494.1H860.7V504.0H855.8ZM860.7 494.1H960.3V504.0H860.7ZM860.7 504.0H875.7V509.0H860.7ZM965.2 146.2H975.2V171.0H965.2ZM975.2 146.2H980.2V156.1H975.2ZM980.2 146.2H1084.7V156.1H980.2ZM990.1 156.1H1010.0V161.1H990.1ZM1094.6 449.3H1099.6V509.0H1094.6ZM1099.6 494.1H1104.6V504.0H1099.6ZM1104.6 494.1H1109.5V504.0H1104.6ZM1109.5 494.1H1209.0V504.0H1109.5ZM1119.5 504.0H1134.4V509.0H1119.5ZM1169.2 504.0H1199.1V509.0H1169.2ZM1214.0 146.2H1224.0V171.0H1214.0ZM1224.0 146.2H1228.9V156.1H1224.0ZM1228.9 146.2H1333.4V156.1H1228.9ZM1228.9 156.1H1243.9V161.1H1228.9ZM1318.5 156.1H1333.4V161.1H1318.5ZM89.5 156.1H94.5V161.1H89.5ZM89.5 166.0H94.5V185.9H89.5ZM89.5 190.9H94.5V210.8H89.5ZM89.5 215.7H94.5V235.6H89.5ZM89.5 240.6H94.5V260.5H89.5ZM89.5 265.4H94.5V285.3H89.5ZM89.5 290.3H94.5V310.2H89.5ZM89.5 315.1H94.5V335.0H89.5ZM89.5 340.0H94.5V359.9H89.5ZM89.5 364.8H94.5V384.7H89.5ZM89.5 389.7H94.5V409.6H89.5ZM89.5 414.5H94.5V434.4H89.5ZM89.5 439.4H94.5V454.3H89.5ZM94.5 449.3H99.5V568.6H94.5ZM104.4 479.1H109.4V523.9H104.4ZM109.4 489.1H114.4V513.9H109.4ZM164.1 489.1H169.1V494.1H164.1ZM114.4 504.0H124.3V509.0H114.4ZM129.3 504.0H134.3V509.0H129.3ZM139.3 504.0H149.2V509.0H139.3ZM119.4 509.0H124.3V513.9H119.4ZM184.1 484.1H189.0V489.1H184.1ZM213.9 180.9H218.9V185.9H213.9ZM213.9 190.9H218.9V210.8H213.9ZM213.9 215.7H218.9V235.6H213.9ZM213.9 240.6H218.9V260.5H213.9ZM213.9 265.4H218.9V285.3H213.9ZM213.9 290.3H218.9V310.2H213.9ZM213.9 315.1H218.9V335.0H213.9ZM213.9 340.0H218.9V359.9H213.9ZM213.9 364.8H218.9V384.7H213.9ZM213.9 389.7H218.9V409.6H213.9ZM213.9 414.5H218.9V434.4H213.9ZM213.9 439.4H218.9V459.3H213.9ZM213.9 464.2H218.9V484.1H213.9ZM213.9 489.1H218.9V509.0H213.9ZM218.9 131.2H223.9V185.9H218.9ZM228.8 141.2H233.8V166.0H228.8ZM253.7 141.2H258.7V146.2H253.7ZM283.6 141.2H288.5V146.2H283.6ZM233.8 156.1H238.8V161.1H233.8ZM253.7 156.1H263.7V161.1H253.7ZM293.5 156.1H298.5V161.1H293.5ZM308.4 156.1H313.4V161.1H308.4ZM318.4 156.1H323.4V161.1H318.4ZM333.3 156.1H338.3V161.1H333.3ZM258.7 161.1H263.7V166.0H258.7ZM268.6 161.1H273.6V166.0H268.6ZM293.5 161.1H298.5V166.0H293.5ZM333.3 161.1H338.3V166.0H333.3ZM338.3 156.1H343.3V161.1H338.3ZM338.3 166.0H343.3V185.9H338.3ZM338.3 190.9H343.3V210.8H338.3ZM338.3 215.7H343.3V235.6H338.3ZM338.3 240.6H343.3V260.5H338.3ZM338.3 265.4H343.3V285.3H338.3ZM338.3 290.3H343.3V310.2H338.3ZM338.3 315.1H343.3V335.0H338.3ZM338.3 340.0H343.3V359.9H338.3ZM338.3 364.8H343.3V384.7H338.3ZM338.3 389.7H343.3V409.6H338.3ZM338.3 414.5H343.3V434.4H338.3ZM338.3 439.4H343.3V454.3H338.3ZM343.3 449.3H348.2V568.6H343.3ZM353.2 479.1H358.2V523.9H353.2ZM358.2 489.1H363.2V513.9H358.2ZM383.1 489.1H388.1V494.1H383.1ZM437.8 489.1H442.8V494.1H437.8ZM368.2 504.0H373.1V509.0H368.2ZM378.1 504.0H383.1V509.0H378.1ZM388.1 504.0H393.0V509.0H388.1ZM408.0 504.0H412.9V509.0H408.0ZM442.8 504.0H447.8V509.0H442.8ZM452.7 504.0H462.7V509.0H452.7ZM378.1 509.0H383.1V513.9H378.1ZM452.7 509.0H457.7V513.9H452.7ZM462.7 180.9H467.7V185.9H462.7ZM462.7 190.9H467.7V210.8H462.7ZM462.7 215.7H467.7V235.6H462.7ZM462.7 240.6H467.7V260.5H462.7ZM462.7 265.4H467.7V285.3H462.7ZM462.7 290.3H467.7V310.2H462.7ZM462.7 315.1H467.7V335.0H462.7ZM462.7 340.0H467.7V359.9H462.7ZM462.7 364.8H467.7V384.7H462.7ZM462.7 389.7H467.7V409.6H462.7ZM462.7 414.5H467.7V434.4H462.7ZM462.7 439.4H467.7V459.3H462.7ZM462.7 464.2H467.7V484.1H462.7ZM462.7 489.1H467.7V509.0H462.7ZM467.7 131.2H472.6V185.9H467.7ZM477.6 141.2H482.6V166.0H477.6ZM512.4 156.1H522.4V161.1H512.4ZM567.2 156.1H572.2V161.1H567.2ZM582.1 156.1H587.1V161.1H582.1ZM542.3 161.1H547.3V166.0H542.3ZM582.1 161.1H587.1V166.0H582.1ZM587.1 156.1H592.1V161.1H587.1ZM587.1 166.0H592.1V185.9H587.1ZM587.1 190.9H592.1V210.8H587.1ZM587.1 215.7H592.1V235.6H587.1ZM587.1 240.6H592.1V260.5H587.1ZM587.1 265.4H592.1V285.3H587.1ZM587.1 290.3H592.1V310.2H587.1ZM587.1 315.1H592.1V335.0H587.1ZM587.1 340.0H592.1V359.9H587.1ZM587.1 364.8H592.1V384.7H587.1ZM587.1 389.7H592.1V409.6H587.1ZM587.1 414.5H592.1V434.4H587.1ZM587.1 439.4H592.1V454.3H587.1ZM592.1 449.3H597.0V568.6H592.1ZM602.0 479.1H607.0V523.9H602.0ZM607.0 489.1H612.0V513.9H607.0ZM696.5 489.1H701.5V494.1H696.5ZM621.9 504.0H631.9V509.0H621.9ZM636.8 504.0H646.8V509.0H636.8ZM656.7 504.0H661.7V509.0H656.7ZM666.7 504.0H676.6V509.0H666.7ZM706.5 504.0H711.5V509.0H706.5ZM621.9 509.0H626.9V513.9H621.9ZM626.9 509.0H631.9V513.9H626.9ZM656.7 509.0H661.7V513.9H656.7ZM711.5 180.9H716.5V185.9H711.5ZM711.5 190.9H716.5V210.8H711.5ZM711.5 215.7H716.5V235.6H711.5ZM711.5 240.6H716.5V260.5H711.5ZM711.5 265.4H716.5V285.3H711.5ZM711.5 290.3H716.5V310.2H711.5ZM711.5 315.1H716.5V335.0H711.5ZM711.5 340.0H716.5V359.9H711.5ZM711.5 364.8H716.5V384.7H711.5ZM711.5 389.7H716.5V409.6H711.5ZM711.5 414.5H716.5V434.4H711.5ZM711.5 439.4H716.5V459.3H711.5ZM711.5 464.2H716.5V484.1H711.5ZM711.5 489.1H716.5V509.0H711.5ZM716.5 131.2H721.4V185.9H716.5ZM726.4 141.2H731.4V166.0H726.4ZM786.1 156.1H791.1V161.1H786.1ZM816.0 156.1H825.9V161.1H816.0ZM751.3 161.1H756.3V166.0H751.3ZM820.9 161.1H825.9V166.0H820.9ZM835.9 156.1H840.8V161.1H835.9ZM835.9 166.0H840.8V185.9H835.9ZM835.9 190.9H840.8V210.8H835.9ZM835.9 215.7H840.8V235.6H835.9ZM835.9 240.6H840.8V260.5H835.9ZM835.9 265.4H840.8V285.3H835.9ZM835.9 290.3H840.8V310.2H835.9ZM835.9 315.1H840.8V335.0H835.9ZM835.9 340.0H840.8V359.9H835.9ZM835.9 364.8H840.8V384.7H835.9ZM835.9 389.7H840.8V409.6H835.9ZM835.9 414.5H840.8V434.4H835.9ZM835.9 439.4H840.8V454.3H835.9ZM840.8 449.3H845.8V568.6H840.8ZM850.8 479.1H855.8V523.9H850.8ZM855.8 489.1H860.7V513.9H855.8ZM900.6 504.0H910.5V509.0H900.6ZM925.4 504.0H935.4V509.0H925.4ZM860.7 509.0H865.7V513.9H860.7ZM900.6 509.0H905.5V513.9H900.6ZM925.4 509.0H930.4V513.9H925.4ZM930.4 509.0H935.4V513.9H930.4ZM960.3 180.9H965.2V185.9H960.3ZM960.3 190.9H965.2V210.8H960.3ZM960.3 215.7H965.2V235.6H960.3ZM960.3 240.6H965.2V260.5H960.3ZM960.3 265.4H965.2V285.3H960.3ZM960.3 290.3H965.2V310.2H960.3ZM960.3 315.1H965.2V335.0H960.3ZM960.3 340.0H965.2V359.9H960.3ZM960.3 364.8H965.2V384.7H960.3ZM960.3 389.7H965.2V409.6H960.3ZM960.3 414.5H965.2V434.4H960.3ZM960.3 439.4H965.2V459.3H960.3ZM960.3 464.2H965.2V484.1H960.3ZM960.3 489.1H965.2V509.0H960.3ZM965.2 131.2H970.2V185.9H965.2ZM975.2 141.2H980.2V166.0H975.2ZM1005.0 141.2H1015.0V146.2H1005.0ZM1015.0 156.1H1024.9V161.1H1015.0ZM1039.9 156.1H1044.8V161.1H1039.9ZM1054.8 156.1H1059.8V161.1H1054.8ZM1079.7 156.1H1084.7V161.1H1079.7ZM995.1 161.1H1000.1V166.0H995.1ZM1015.0 161.1H1020.0V166.0H1015.0ZM1084.7 156.1H1089.6V161.1H1084.7ZM1084.7 166.0H1089.6V185.9H1084.7ZM1084.7 190.9H1089.6V210.8H1084.7ZM1084.7 215.7H1089.6V235.6H1084.7ZM1084.7 240.6H1089.6V260.5H1084.7ZM1084.7 265.4H1089.6V285.3H1084.7ZM1084.7 290.3H1089.6V310.2H1084.7ZM1084.7 315.1H1089.6V335.0H1084.7ZM1084.7 340.0H1089.6V359.9H1084.7ZM1084.7 364.8H1089.6V384.7H1084.7ZM1084.7 389.7H1089.6V409.6H1084.7ZM1084.7 414.5H1089.6V434.4H1084.7ZM1084.7 439.4H1089.6V454.3H1084.7ZM1089.6 449.3H1094.6V568.6H1089.6ZM1099.6 479.1H1104.6V523.9H1099.6ZM1104.6 489.1H1109.5V513.9H1104.6ZM1109.5 489.1H1114.5V494.1H1109.5ZM1119.5 489.1H1124.5V494.1H1119.5ZM1174.2 489.1H1179.2V494.1H1174.2ZM1154.3 504.0H1159.3V509.0H1154.3ZM1209.0 180.9H1214.0V185.9H1209.0ZM1209.0 190.9H1214.0V210.8H1209.0ZM1209.0 215.7H1214.0V235.6H1209.0ZM1209.0 240.6H1214.0V260.5H1209.0ZM1209.0 265.4H1214.0V285.3H1209.0ZM1209.0 290.3H1214.0V310.2H1209.0ZM1209.0 315.1H1214.0V335.0H1209.0ZM1209.0 340.0H1214.0V359.9H1209.0ZM1209.0 364.8H1214.0V384.7H1209.0ZM1209.0 389.7H1214.0V409.6H1209.0ZM1209.0 414.5H1214.0V434.4H1209.0ZM1209.0 439.4H1214.0V459.3H1209.0ZM1209.0 464.2H1214.0V484.1H1209.0ZM1209.0 489.1H1214.0V509.0H1209.0ZM1214.0 131.2H1219.0V185.9H1214.0ZM1224.0 141.2H1228.9V166.0H1224.0ZM1238.9 141.2H1243.9V146.2H1238.9ZM1253.8 141.2H1258.8V146.2H1253.8ZM1248.9 156.1H1253.8V161.1H1248.9ZM1258.8 156.1H1263.8V161.1H1258.8ZM1268.8 156.1H1273.7V161.1H1268.8ZM1233.9 161.1H1238.9V166.0H1233.9ZM1238.9 161.1H1243.9V166.0H1238.9ZM1258.8 161.1H1263.8V166.0H1258.8Z" fill="#b8f6f6"/>
<path d="M104.4 777.3H109.4V797.2H104.4ZM109.4 787.3H114.4V807.2H109.4ZM114.4 802.2H213.9V812.1H114.4ZM154.2 797.2H174.1V802.2H154.2ZM124.3 812.1H144.2V817.1H124.3ZM179.1 812.1H194.0V817.1H179.1ZM228.8 648.1H233.8V668.0H228.8ZM233.8 633.2H238.8V653.1H233.8ZM238.8 623.3H243.8V638.2H238.8ZM243.8 623.3H338.3V633.2H243.8ZM353.2 777.3H358.2V797.2H353.2ZM358.2 787.3H363.2V807.2H358.2ZM363.2 802.2H462.7V812.1H363.2ZM437.8 812.1H457.7V817.1H437.8ZM477.6 648.1H482.6V668.0H477.6ZM482.6 633.2H487.6V653.1H482.6ZM487.6 623.3H492.5V638.2H487.6ZM492.5 623.3H587.1V633.2H492.5ZM552.3 633.2H587.1V638.2H552.3ZM602.0 777.3H607.0V797.2H602.0ZM607.0 787.3H612.0V807.2H607.0ZM612.0 802.2H711.5V812.1H612.0ZM691.6 797.2H706.5V802.2H691.6ZM646.8 812.1H671.7V817.1H646.8ZM676.6 812.1H696.5V817.1H676.6ZM726.4 648.1H731.4V668.0H726.4ZM731.4 633.2H736.4V653.1H731.4ZM736.4 623.3H741.3V638.2H736.4ZM741.3 623.3H835.9V633.2H741.3ZM850.8 777.3H855.8V797.2H850.8ZM855.8 787.3H860.7V807.2H855.8ZM860.7 802.2H960.3V812.1H860.7ZM930.4 797.2H955.3V802.2H930.4ZM975.2 648.1H980.2V668.0H975.2ZM980.2 633.2H985.1V653.1H980.2ZM985.1 623.3H990.1V638.2H985.1ZM990.1 623.3H1084.7V633.2H990.1ZM1005.0 633.2H1034.9V638.2H1005.0ZM1039.9 633.2H1059.8V638.2H1039.9ZM1099.6 777.3H1104.6V797.2H1099.6ZM1104.6 787.3H1109.5V807.2H1104.6ZM1109.5 802.2H1209.0V812.1H1109.5ZM1154.3 797.2H1169.2V802.2H1154.3ZM1109.5 812.1H1124.5V817.1H1109.5ZM1129.4 812.1H1159.3V817.1H1129.4ZM1224.0 648.1H1228.9V668.0H1224.0ZM1228.9 633.2H1233.9V653.1H1228.9ZM1233.9 623.3H1238.9V638.2H1233.9ZM1238.9 623.3H1333.4V633.2H1238.9ZM1248.9 633.2H1263.8V638.2H1248.9ZM1298.6 633.2H1318.5V638.2H1298.6ZM89.5 623.3H94.5V673.0H89.5ZM94.5 668.0H99.5V727.6H94.5ZM99.5 722.7H104.4V782.3H99.5ZM129.3 797.2H134.3V802.2H129.3ZM189.0 797.2H194.0V802.2H189.0ZM204.0 797.2H208.9V802.2H204.0ZM114.4 812.1H119.4V817.1H114.4ZM149.2 812.1H159.2V817.1H149.2ZM164.1 812.1H174.1V817.1H164.1ZM199.0 812.1H208.9V817.1H199.0ZM164.1 817.1H169.1V822.1H164.1ZM169.1 817.1H174.1V822.1H169.1ZM213.9 762.4H218.9V812.1H213.9ZM218.9 717.7H223.9V767.4H218.9ZM223.9 663.0H228.8V722.7H223.9ZM258.7 618.3H268.6V623.3H258.7ZM278.6 618.3H283.6V623.3H278.6ZM248.7 633.2H253.7V638.2H248.7ZM258.7 633.2H263.7V638.2H258.7ZM268.6 633.2H273.6V638.2H268.6ZM278.6 633.2H288.5V638.2H278.6ZM293.5 633.2H298.5V638.2H293.5ZM303.5 633.2H308.4V638.2H303.5ZM313.4 633.2H318.4V638.2H313.4ZM323.4 633.2H328.3V638.2H323.4ZM333.3 633.2H338.3V638.2H333.3ZM268.6 638.2H273.6V643.2H268.6ZM338.3 623.3H343.3V673.0H338.3ZM343.3 668.0H348.2V727.6H343.3ZM348.2 722.7H353.2V782.3H348.2ZM373.1 797.2H378.1V802.2H373.1ZM452.7 797.2H457.7V802.2H452.7ZM363.2 812.1H368.2V817.1H363.2ZM373.1 812.1H383.1V817.1H373.1ZM388.1 812.1H393.0V817.1H388.1ZM398.0 812.1H403.0V817.1H398.0ZM408.0 812.1H412.9V817.1H408.0ZM417.9 812.1H422.9V817.1H417.9ZM427.9 812.1H432.8V817.1H427.9ZM378.1 817.1H383.1V822.1H378.1ZM437.8 817.1H442.8V822.1H437.8ZM462.7 762.4H467.7V812.1H462.7ZM467.7 717.7H472.6V767.4H467.7ZM472.6 663.0H477.6V722.7H472.6ZM582.1 618.3H587.1V623.3H582.1ZM492.5 633.2H497.5V638.2H492.5ZM502.5 633.2H512.4V638.2H502.5ZM517.4 633.2H522.4V638.2H517.4ZM527.4 633.2H532.3V638.2H527.4ZM537.3 633.2H547.3V638.2H537.3ZM587.1 623.3H592.1V673.0H587.1ZM592.1 668.0H597.0V727.6H592.1ZM597.0 722.7H602.0V782.3H597.0ZM636.8 797.2H646.8V802.2H636.8ZM651.8 797.2H656.7V802.2H651.8ZM661.7 797.2H671.7V802.2H661.7ZM612.0 812.1H621.9V817.1H612.0ZM626.9 812.1H631.9V817.1H626.9ZM636.8 812.1H641.8V817.1H636.8ZM701.5 812.1H711.5V817.1H701.5ZM612.0 817.1H616.9V822.1H612.0ZM616.9 817.1H621.9V822.1H616.9ZM666.7 792.3H671.7V797.2H666.7ZM676.6 817.1H681.6V822.1H676.6ZM681.6 817.1H686.6V822.1H681.6ZM701.5 817.1H706.5V822.1H701.5ZM711.5 762.4H716.5V812.1H711.5ZM716.5 717.7H721.4V767.4H716.5ZM721.4 663.0H726.4V722.7H721.4ZM820.9 618.3H830.9V623.3H820.9ZM741.3 633.2H746.3V638.2H741.3ZM751.3 633.2H761.2V638.2H751.3ZM766.2 633.2H771.2V638.2H766.2ZM776.2 633.2H786.1V638.2H776.2ZM791.1 633.2H796.1V638.2H791.1ZM801.0 633.2H811.0V638.2H801.0ZM816.0 633.2H820.9V638.2H816.0ZM825.9 633.2H835.9V638.2H825.9ZM781.1 638.2H786.1V643.2H781.1ZM835.9 623.3H840.8V673.0H835.9ZM840.8 668.0H845.8V727.6H840.8ZM845.8 722.7H850.8V782.3H845.8ZM870.7 797.2H875.7V802.2H870.7ZM880.6 797.2H885.6V802.2H880.6ZM890.6 797.2H895.6V802.2H890.6ZM915.5 797.2H920.5V802.2H915.5ZM865.7 812.1H875.7V817.1H865.7ZM885.6 812.1H895.6V817.1H885.6ZM900.6 812.1H905.5V817.1H900.6ZM910.5 812.1H915.5V817.1H910.5ZM920.5 812.1H925.4V817.1H920.5ZM930.4 812.1H940.4V817.1H930.4ZM945.3 812.1H950.3V817.1H945.3ZM955.3 812.1H960.3V817.1H955.3ZM910.5 817.1H915.5V822.1H910.5ZM920.5 817.1H925.4V822.1H920.5ZM935.4 792.3H940.4V797.2H935.4ZM960.3 762.4H965.2V812.1H960.3ZM965.2 717.7H970.2V767.4H965.2ZM970.2 663.0H975.2V722.7H970.2ZM1005.0 618.3H1015.0V623.3H1005.0ZM990.1 633.2H1000.1V638.2H990.1ZM1064.7 633.2H1069.7V638.2H1064.7ZM1074.7 633.2H1084.7V638.2H1074.7ZM990.1 638.2H995.1V643.2H990.1ZM1074.7 638.2H1079.7V643.2H1074.7ZM1084.7 623.3H1089.6V673.0H1084.7ZM1089.6 668.0H1094.6V727.6H1089.6ZM1094.6 722.7H1099.6V782.3H1094.6ZM1164.3 812.1H1169.2V817.1H1164.3ZM1174.2 812.1H1179.2V817.1H1174.2ZM1184.2 812.1H1194.1V817.1H1184.2ZM1199.1 812.1H1204.1V817.1H1199.1ZM1119.5 817.1H1124.5V822.1H1119.5ZM1164.3 792.3H1169.2V797.2H1164.3ZM1209.0 762.4H1214.0V812.1H1209.0ZM1214.0 717.7H1219.0V767.4H1214.0ZM1219.0 663.0H1224.0V722.7H1219.0ZM1238.9 633.2H1243.9V638.2H1238.9ZM1268.8 633.2H1273.7V638.2H1268.8ZM1278.7 633.2H1283.7V638.2H1278.7ZM1288.7 633.2H1293.6V638.2H1288.7ZM1323.5 633.2H1333.4V638.2H1323.5ZM1238.9 638.2H1243.9V643.2H1238.9ZM1313.5 638.2H1318.5V643.2H1313.5Z" fill="#ffcaff"/>
<path d="M99.5 976.1H104.4V996.0H99.5ZM104.4 991.1H213.9V1001.0H104.4ZM184.1 986.1H199.0V991.1H184.1ZM104.4 1001.0H124.3V1006.0H104.4ZM129.3 1001.0H149.2V1006.0H129.3ZM223.9 896.6H228.8V916.5H223.9ZM228.8 886.7H233.8V901.6H228.8ZM233.8 886.7H338.3V896.6H233.8ZM233.8 896.6H248.7V901.6H233.8ZM263.7 896.6H278.6V901.6H263.7ZM348.2 976.1H353.2V996.0H348.2ZM353.2 991.1H462.7V1001.0H353.2ZM358.2 986.1H373.1V991.1H358.2ZM432.8 986.1H447.8V991.1H432.8ZM368.2 1001.0H383.1V1006.0H368.2ZM472.6 896.6H477.6V916.5H472.6ZM477.6 886.7H482.6V901.6H477.6ZM482.6 886.7H587.1V896.6H482.6ZM507.5 896.6H527.4V901.6H507.5ZM572.2 896.6H587.1V901.6H572.2ZM597.0 976.1H602.0V996.0H597.0ZM602.0 991.1H711.5V1001.0H602.0ZM661.7 986.1H681.6V991.1H661.7ZM686.6 986.1H706.5V991.1H686.6ZM626.9 1001.0H651.8V1006.0H626.9ZM721.4 896.6H726.4V916.5H721.4ZM726.4 886.7H731.4V901.6H726.4ZM731.4 886.7H835.9V896.6H731.4ZM776.2 881.7H791.1V886.7H776.2ZM741.3 896.6H771.2V901.6H741.3ZM845.8 976.1H850.8V996.0H845.8ZM850.8 991.1H960.3V1001.0H850.8ZM850.8 1001.0H865.7V1006.0H850.8ZM970.2 896.6H975.2V916.5H970.2ZM975.2 886.7H980.2V901.6H975.2ZM980.2 886.7H1084.7V896.6H980.2ZM995.1 896.6H1024.9V901.6H995.1ZM1094.6 976.1H1099.6V996.0H1094.6ZM1099.6 991.1H1209.0V1001.0H1099.6ZM1114.5 986.1H1129.4V991.1H1114.5ZM1134.4 1001.0H1149.3V1006.0H1134.4ZM1179.2 1001.0H1194.1V1006.0H1179.2ZM1219.0 896.6H1224.0V916.5H1219.0ZM1224.0 886.7H1228.9V901.6H1224.0ZM1228.9 886.7H1333.4V896.6H1228.9ZM1238.9 896.6H1283.7V901.6H1238.9ZM89.5 886.7H94.5V906.6H89.5ZM89.5 911.5H94.5V931.4H89.5ZM89.5 936.4H94.5V946.3H89.5ZM94.5 941.4H99.5V986.1H94.5ZM134.3 986.1H144.2V991.1H134.3ZM154.2 1001.0H159.2V1006.0H154.2ZM164.1 1001.0H169.1V1006.0H164.1ZM179.1 1001.0H184.1V1006.0H179.1ZM189.0 1001.0H194.0V1006.0H189.0ZM199.0 1001.0H204.0V1006.0H199.0ZM208.9 1001.0H213.9V1006.0H208.9ZM134.3 1006.0H139.3V1010.9H134.3ZM139.3 1006.0H144.2V1010.9H139.3ZM179.1 1006.0H184.1V1010.9H179.1ZM213.9 936.4H218.9V1001.0H213.9ZM218.9 911.5H223.9V941.4H218.9ZM238.8 881.7H248.7V886.7H238.8ZM253.7 881.7H263.7V886.7H253.7ZM283.6 881.7H288.5V886.7H283.6ZM313.4 881.7H323.4V886.7H313.4ZM253.7 896.6H258.7V901.6H253.7ZM283.6 896.6H288.5V901.6H283.6ZM293.5 896.6H298.5V901.6H293.5ZM308.4 896.6H318.4V901.6H308.4ZM323.4 896.6H328.3V901.6H323.4ZM333.3 896.6H338.3V901.6H333.3ZM333.3 901.6H338.3V906.6H333.3ZM338.3 886.7H343.3V906.6H338.3ZM338.3 911.5H343.3V931.4H338.3ZM338.3 936.4H343.3V946.3H338.3ZM343.3 941.4H348.2V986.1H343.3ZM383.1 986.1H388.1V991.1H383.1ZM417.9 986.1H422.9V991.1H417.9ZM353.2 1001.0H363.2V1006.0H353.2ZM388.1 1001.0H393.0V1006.0H388.1ZM398.0 1001.0H408.0V1006.0H398.0ZM412.9 1001.0H417.9V1006.0H412.9ZM422.9 1001.0H432.8V1006.0H422.9ZM442.8 1001.0H447.8V1006.0H442.8ZM452.7 1001.0H462.7V1006.0H452.7ZM363.2 981.1H368.2V986.1H363.2ZM383.1 981.1H388.1V986.1H383.1ZM412.9 1006.0H417.9V1010.9H412.9ZM462.7 936.4H467.7V1001.0H462.7ZM467.7 911.5H472.6V941.4H467.7ZM497.5 881.7H502.5V886.7H497.5ZM512.4 881.7H517.4V886.7H512.4ZM537.3 881.7H542.3V886.7H537.3ZM482.6 896.6H492.5V901.6H482.6ZM497.5 896.6H502.5V901.6H497.5ZM532.3 896.6H537.3V901.6H532.3ZM542.3 896.6H547.3V901.6H542.3ZM552.3 896.6H557.2V901.6H552.3ZM562.2 896.6H567.2V901.6H562.2ZM562.2 901.6H567.2V906.6H562.2ZM587.1 886.7H592.1V906.6H587.1ZM587.1 911.5H592.1V931.4H587.1ZM587.1 936.4H592.1V946.3H587.1ZM592.1 941.4H597.0V986.1H592.1ZM646.8 986.1H651.8V991.1H646.8ZM602.0 1001.0H607.0V1006.0H602.0ZM612.0 1001.0H621.9V1006.0H612.0ZM661.7 1001.0H666.7V1006.0H661.7ZM671.7 1001.0H681.6V1006.0H671.7ZM686.6 1001.0H691.6V1006.0H686.6ZM696.5 1001.0H701.5V1006.0H696.5ZM706.5 1001.0H711.5V1006.0H706.5ZM602.0 1006.0H607.0V1010.9H602.0ZM711.5 936.4H716.5V1001.0H711.5ZM716.5 911.5H721.4V941.4H716.5ZM801.0 881.7H811.0V886.7H801.0ZM830.9 881.7H835.9V886.7H830.9ZM731.4 896.6H736.4V901.6H731.4ZM776.2 896.6H781.1V901.6H776.2ZM786.1 896.6H791.1V901.6H786.1ZM796.1 896.6H801.0V901.6H796.1ZM806.0 896.6H811.0V901.6H806.0ZM816.0 896.6H820.9V901.6H816.0ZM825.9 896.6H835.9V901.6H825.9ZM741.3 901.6H746.3V906.6H741.3ZM786.1 901.6H791.1V906.6H786.1ZM830.9 876.7H835.9V881.7H830.9ZM835.9 886.7H840.8V906.6H835.9ZM835.9 911.5H840.8V931.4H835.9ZM835.9 936.4H840.8V946.3H835.9ZM840.8 941.4H845.8V986.1H840.8ZM855.8 986.1H860.7V991.1H855.8ZM875.7 986.1H880.6V991.1H875.7ZM915.5 986.1H920.5V991.1H915.5ZM955.3 986.1H960.3V991.1H955.3ZM870.7 1001.0H880.6V1006.0H870.7ZM885.6 1001.0H890.6V1006.0H885.6ZM895.6 1001.0H900.6V1006.0H895.6ZM905.5 1001.0H915.5V1006.0H905.5ZM920.5 1001.0H930.4V1006.0H920.5ZM935.4 1001.0H940.4V1006.0H935.4ZM945.3 1001.0H950.3V1006.0H945.3ZM955.3 1001.0H960.3V1006.0H955.3ZM960.3 936.4H965.2V1001.0H960.3ZM965.2 911.5H970.2V941.4H965.2ZM1024.9 881.7H1034.9V886.7H1024.9ZM1039.9 881.7H1049.8V886.7H1039.9ZM980.2 896.6H990.1V901.6H980.2ZM1029.9 896.6H1034.9V901.6H1029.9ZM1039.9 896.6H1044.8V901.6H1039.9ZM1049.8 896.6H1054.8V901.6H1049.8ZM1059.8 896.6H1064.7V901.6H1059.8ZM1069.7 896.6H1074.7V901.6H1069.7ZM1079.7 896.6H1084.7V901.6H1079.7ZM1005.0 901.6H1010.0V906.6H1005.0ZM1015.0 901.6H1020.0V906.6H1015.0ZM1084.7 886.7H1089.6V906.6H1084.7ZM1084.7 911.5H1089.6V931.4H1084.7ZM1084.7 936.4H1089.6V946.3H1084.7ZM1089.6 941.4H1094.6V986.1H1089.6ZM1144.4 986.1H1149.3V991.1H1144.4ZM1154.3 986.1H1164.3V991.1H1154.3ZM1169.2 986.1H1174.2V991.1H1169.2ZM1199.1 986.1H1204.1V991.1H1199.1ZM1099.6 1001.0H1104.6V1006.0H1099.6ZM1109.5 1001.0H1114.5V1006.0H1109.5ZM1119.5 1001.0H1129.4V1006.0H1119.5ZM1154.3 1001.0H1164.3V1006.0H1154.3ZM1169.2 1001.0H1174.2V1006.0H1169.2ZM1199.1 1001.0H1209.0V1006.0H1199.1ZM1099.6 1006.0H1104.6V1010.9H1099.6ZM1119.5 1006.0H1124.5V1010.9H1119.5ZM1134.4 1006.0H1139.4V1010.9H1134.4ZM1169.2 981.1H1174.2V986.1H1169.2ZM1199.1 1006.0H1204.1V1010.9H1199.1ZM1209.0 936.4H1214.0V1001.0H1209.0ZM1214.0 911.5H1219.0V941.4H1214.0ZM1253.8 881.7H1263.8V886.7H1253.8ZM1228.9 896.6H1233.9V901.6H1228.9ZM1288.7 896.6H1293.6V901.6H1288.7ZM1298.6 896.6H1308.6V901.6H1298.6ZM1313.5 896.6H1318.5V901.6H1313.5ZM1323.5 896.6H1333.4V901.6H1323.5ZM1243.9 901.6H1248.9V906.6H1243.9ZM1263.8 901.6H1268.8V906.6H1263.8ZM1298.6 901.6H1303.6V906.6H1298.6ZM1313.5 901.6H1318.5V906.6H1313.5Z" fill="#c8f8c8"/>
</g>
<g filter="url(#soft)">
<path d="M94.5 379.7H99.5V384.7H94.5ZM104.4 379.7H114.4V384.7H104.4ZM119.4 379.7H124.3V384.7H119.4ZM129.3 379.7H134.3V384.7H129.3ZM139.3 379.7H144.2V384.7H139.3ZM184.1 379.7H194.0V384.7H184.1ZM199.0 379.7H208.9V384.7H199.0ZM144.2 394.7H154.2V399.6H144.2ZM223.9 270.4H228.8V275.4H223.9ZM218.9 285.3H223.9V290.3H218.9ZM273.6 285.3H278.6V290.3H273.6ZM288.5 285.3H293.5V290.3H288.5ZM323.4 285.3H328.3V290.3H323.4ZM343.3 379.7H353.2V384.7H343.3ZM358.2 379.7H363.2V384.7H358.2ZM378.1 379.7H383.1V384.7H378.1ZM388.1 379.7H393.0V384.7H388.1ZM398.0 379.7H403.0V384.7H398.0ZM452.7 379.7H457.7V384.7H452.7ZM547.3 270.4H552.3V275.4H547.3ZM472.6 285.3H477.6V290.3H472.6ZM482.6 285.3H487.6V290.3H482.6ZM512.4 285.3H517.4V290.3H512.4ZM522.4 285.3H532.3V290.3H522.4ZM592.1 379.7H597.0V384.7H592.1ZM602.0 379.7H607.0V384.7H602.0ZM636.8 379.7H641.8V384.7H636.8ZM676.6 379.7H686.6V384.7H676.6ZM716.5 285.3H726.4V290.3H716.5ZM756.3 285.3H761.2V290.3H756.3ZM766.2 285.3H771.2V290.3H766.2ZM796.1 285.3H801.0V290.3H796.1ZM806.0 285.3H811.0V290.3H806.0ZM820.9 285.3H825.9V290.3H820.9ZM830.9 285.3H835.9V290.3H830.9ZM870.7 379.7H875.7V384.7H870.7ZM880.6 379.7H890.6V384.7H880.6ZM900.6 379.7H910.5V384.7H900.6ZM895.6 394.7H900.6V399.6H895.6ZM950.3 394.7H955.3V399.6H950.3ZM970.2 285.3H975.2V290.3H970.2ZM980.2 285.3H990.1V290.3H980.2ZM1015.0 285.3H1020.0V290.3H1015.0ZM1024.9 285.3H1029.9V290.3H1024.9ZM1054.8 285.3H1064.7V290.3H1054.8ZM1074.7 285.3H1084.7V290.3H1074.7ZM1139.4 379.7H1149.3V384.7H1139.4ZM1164.3 379.7H1174.2V384.7H1164.3ZM1184.2 379.7H1189.1V384.7H1184.2ZM1194.1 379.7H1199.1V384.7H1194.1ZM1214.0 285.3H1224.0V290.3H1214.0ZM1253.8 285.3H1258.8V290.3H1253.8ZM1263.8 285.3H1273.7V290.3H1263.8ZM1303.6 285.3H1308.6V290.3H1303.6ZM1313.5 285.3H1318.5V290.3H1313.5ZM1323.5 285.3H1328.5V290.3H1323.5Z" fill="#dc9a2c" stroke="#dc9a2c" stroke-width="0.4"/>
<path d="M94.5 384.7H213.9V394.7H94.5ZM154.2 379.7H169.1V384.7H154.2ZM218.9 275.4H338.3V285.3H218.9ZM233.8 285.3H248.7V290.3H233.8ZM253.7 285.3H268.6V290.3H253.7ZM298.5 285.3H313.4V290.3H298.5ZM343.3 384.7H462.7V394.7H343.3ZM408.0 379.7H437.8V384.7H408.0ZM467.7 275.4H587.1V285.3H467.7ZM492.5 285.3H507.5V290.3H492.5ZM537.3 285.3H552.3V290.3H537.3ZM567.2 285.3H587.1V290.3H567.2ZM592.1 384.7H711.5V394.7H592.1ZM616.9 379.7H631.9V384.7H616.9ZM651.8 379.7H671.7V384.7H651.8ZM691.6 379.7H711.5V384.7H691.6ZM716.5 275.4H835.9V285.3H716.5ZM731.4 285.3H751.3V290.3H731.4ZM840.8 384.7H960.3V394.7H840.8ZM850.8 379.7H865.7V384.7H850.8ZM920.5 379.7H945.3V384.7H920.5ZM965.2 275.4H1084.7V285.3H965.2ZM1054.8 270.4H1084.7V275.4H1054.8ZM995.1 285.3H1010.0V290.3H995.1ZM1089.6 384.7H1209.0V394.7H1089.6ZM1089.6 379.7H1109.5V384.7H1089.6ZM1114.5 379.7H1129.4V384.7H1114.5ZM1214.0 275.4H1333.4V285.3H1214.0ZM1238.9 270.4H1253.8V275.4H1238.9ZM1228.9 285.3H1248.9V290.3H1228.9ZM1278.7 285.3H1298.6V290.3H1278.7Z" fill="#f29d0e" stroke="#f29d0e" stroke-width="1"/>
<path d="M89.5 156.1H94.5V161.1H89.5ZM89.5 166.0H94.5V185.9H89.5ZM89.5 190.9H94.5V210.8H89.5ZM89.5 215.7H94.5V235.6H89.5ZM89.5 240.6H94.5V260.5H89.5ZM89.5 265.4H94.5V285.3H89.5ZM89.5 290.3H94.5V310.2H89.5ZM89.5 315.1H94.5V335.0H89.5ZM89.5 340.0H94.5V359.9H89.5ZM89.5 364.8H94.5V384.7H89.5ZM89.5 389.7H94.5V409.6H89.5ZM89.5 414.5H94.5V434.4H89.5ZM89.5 439.4H94.5V454.3H89.5ZM94.5 449.3H99.5V568.6H94.5ZM104.4 479.1H109.4V523.9H104.4ZM109.4 489.1H114.4V513.9H109.4ZM164.1 489.1H169.1V494.1H164.1ZM114.4 504.0H124.3V509.0H114.4ZM129.3 504.0H134.3V509.0H129.3ZM139.3 504.0H149.2V509.0H139.3ZM119.4 509.0H124.3V513.9H119.4ZM184.1 484.1H189.0V489.1H184.1ZM213.9 180.9H218.9V185.9H213.9ZM213.9 190.9H218.9V210.8H213.9ZM213.9 215.7H218.9V235.6H213.9ZM213.9 240.6H218.9V260.5H213.9ZM213.9 265.4H218.9V285.3H213.9ZM213.9 290.3H218.9V310.2H213.9ZM213.9 315.1H218.9V335.0H213.9ZM213.9 340.0H218.9V359.9H213.9ZM213.9 364.8H218.9V384.7H213.9ZM213.9 389.7H218.9V409.6H213.9ZM213.9 414.5H218.9V434.4H213.9ZM213.9 439.4H218.9V459.3H213.9ZM213.9 464.2H218.9V484.1H213.9ZM213.9 489.1H218.9V509.0H213.9ZM218.9 131.2H223.9V185.9H218.9ZM228.8 141.2H233.8V166.0H228.8ZM253.7 141.2H258.7V146.2H253.7ZM283.6 141.2H288.5V146.2H283.6ZM233.8 156.1H238.8V161.1H233.8ZM253.7 156.1H263.7V161.1H253.7ZM293.5 156.1H298.5V161.1H293.5ZM308.4 156.1H313.4V161.1H308.4ZM318.4 156.1H323.4V161.1H318.4ZM333.3 156.1H338.3V161.1H333.3ZM258.7 161.1H263.7V166.0H258.7ZM268.6 161.1H273.6V166.0H268.6ZM293.5 161.1H298.5V166.0H293.5ZM333.3 161.1H338.3V166.0H333.3ZM338.3 156.1H343.3V161.1H338.3ZM338.3 166.0H343.3V185.9H338.3ZM338.3 190.9H343.3V210.8H338.3ZM338.3 215.7H343.3V235.6H338.3ZM338.3 240.6H343.3V260.5H338.3ZM338.3 265.4H343.3V285.3H338.3ZM338.3 290.3H343.3V310.2H338.3ZM338.3 315.1H343.3V335.0H338.3ZM338.3 340.0H343.3V359.9H338.3ZM338.3 364.8H343.3V384.7H338.3ZM338.3 389.7H343.3V409.6H338.3ZM338.3 414.5H343.3V434.4H338.3ZM338.3 439.4H343.3V454.3H338.3ZM343.3 449.3H348.2V568.6H343.3ZM353.2 479.1H358.2V523.9H353.2ZM358.2 489.1H363.2V513.9H358.2ZM383.1 489.1H388.1V494.1H383.1ZM437.8 489.1H442.8V494.1H437.8ZM368.2 504.0H373.1V509.0H368.2ZM378.1 504.0H383.1V509.0H378.1ZM388.1 504.0H393.0V509.0H388.1ZM408.0 504.0H412.9V509.0H408.0ZM442.8 504.0H447.8V509.0H442.8ZM452.7 504.0H462.7V509.0H452.7ZM378.1 509.0H383.1V513.9H378.1ZM452.7 509.0H457.7V513.9H452.7ZM462.7 180.9H467.7V185.9H462.7ZM462.7 190.9H467.7V210.8H462.7ZM462.7 215.7H467.7V235.6H462.7ZM462.7 240.6H467.7V260.5H462.7ZM462.7 265.4H467.7V285.3H462.7ZM462.7 290.3H467.7V310.2H462.7ZM462.7 315.1H467.7V335.0H462.7ZM462.7 340.0H467.7V359.9H462.7ZM462.7 364.8H467.7V384.7H462.7ZM462.7 389.7H467.7V409.6H462.7ZM462.7 414.5H467.7V434.4H462.7ZM462.7 439.4H467.7V459.3H462.7ZM462.7 464.2H467.7V484.1H462.7ZM462.7 489.1H467.7V509.0H462.7ZM467.7 131.2H472.6V185.9H467.7ZM477.6 141.2H482.6V166.0H477.6ZM512.4 156.1H522.4V161.1H512.4ZM567.2 156.1H572.2V161.1H567.2ZM582.1 156.1H587.1V161.1H582.1ZM542.3 161.1H547.3V166.0H542.3ZM582.1 161.1H587.1V166.0H582.1ZM587.1 156.1H592.1V161.1H587.1ZM587.1 166.0H592.1V185.9H587.1ZM587.1 190.9H592.1V210.8H587.1ZM587.1 215.7H592.1V235.6H587.1ZM587.1 240.6H592.1V260.5H587.1ZM587.1 265.4H592.1V285.3H587.1ZM587.1 290.3H592.1V310.2H587.1ZM587.1 315.1H592.1V335.0H587.1ZM587.1 340.0H592.1V359.9H587.1ZM587.1 364.8H592.1V384.7H587.1ZM587.1 389.7H592.1V409.6H587.1ZM587.1 414.5H592.1V434.4H587.1ZM587.1 439.4H592.1V454.3H587.1ZM592.1 449.3H597.0V568.6H592.1ZM602.0 479.1H607.0V523.9H602.0ZM607.0 489.1H612.0V513.9H607.0ZM696.5 489.1H701.5V494.1H696.5ZM621.9 504.0H631.9V509.0H621.9ZM636.8 504.0H646.8V509.0H636.8ZM656.7 504.0H661.7V509.0H656.7ZM666.7 504.0H676.6V509.0H666.7ZM706.5 504.0H711.5V509.0H706.5ZM621.9 509.0H626.9V513.9H621.9ZM626.9 509.0H631.9V513.9H626.9ZM656.7 509.0H661.7V513.9H656.7ZM711.5 180.9H716.5V185.9H711.5ZM711.5 190.9H716.5V210.8H711.5ZM711.5 215.7H716.5V235.6H711.5ZM711.5 240.6H716.5V260.5H711.5ZM711.5 265.4H716.5V285.3H711.5ZM711.5 290.3H716.5V310.2H711.5ZM711.5 315.1H716.5V335.0H711.5ZM711.5 340.0H716.5V359.9H711.5ZM711.5 364.8H716.5V384.7H711.5ZM711.5 389.7H716.5V409.6H711.5ZM711.5 414.5H716.5V434.4H711.5ZM711.5 439.4H716.5V459.3H711.5ZM711.5 464.2H716.5V484.1H711.5ZM711.5 489.1H716.5V509.0H711.5ZM716.5 131.2H721.4V185.9H716.5ZM726.4 141.2H731.4V166.0H726.4ZM786.1 156.1H791.1V161.1H786.1ZM816.0 156.1H825.9V161.1H816.0ZM751.3 161.1H756.3V166.0H751.3ZM820.9 161.1H825.9V166.0H820.9ZM835.9 156.1H840.8V161.1H835.9ZM835.9 166.0H840.8V185.9H835.9ZM835.9 190.9H840.8V210.8H835.9ZM835.9 215.7H840.8V235.6H835.9ZM835.9 240.6H840.8V260.5H835.9ZM835.9 265.4H840.8V285.3H835.9ZM835.9 290.3H840.8V310.2H835.9ZM835.9 315.1H840.8V335.0H835.9ZM835.9 340.0H840.8V359.9H835.9ZM835.9 364.8H840.8V384.7H835.9ZM835.9 389.7H840.8V409.6H835.9ZM835.9 414.5H840.8V434.4H835.9ZM835.9 439.4H840.8V454.3H835.9ZM840.8 449.3H845.8V568.6H840.8ZM850.8 479.1H855.8V523.9H850.8ZM855.8 489.1H860.7V513.9H855.8ZM900.6 504.0H910.5V509.0H900.6ZM925.4 504.0H935.4V509.0H925.4ZM860.7 509.0H865.7V513.9H860.7ZM900.6 509.0H905.5V513.9H900.6ZM925.4 509.0H930.4V513.9H925.4ZM930.4 509.0H935.4V513.9H930.4ZM960.3 180.9H965.2V185.9H960.3ZM960.3 190.9H965.2V210.8H960.3ZM960.3 215.7H965.2V235.6H960.3ZM960.3 240.6H965.2V260.5H960.3ZM960.3 265.4H965.2V285.3H960.3ZM960.3 290.3H965.2V310.2H960.3ZM960.3 315.1H965.2V335.0H960.3ZM960.3 340.0H965.2V359.9H960.3ZM960.3 364.8H965.2V384.7H960.3ZM960.3 389.7H965.2V409.6H960.3ZM960.3 414.5H965.2V434.4H960.3ZM960.3 439.4H965.2V459.3H960.3ZM960.3 464.2H965.2V484.1H960.3ZM960.3 489.1H965.2V509.0H960.3ZM965.2 131.2H970.2V185.9H965.2ZM975.2 141.2H980.2V166.0H975.2ZM1005.0 141.2H1015.0V146.2H1005.0ZM1015.0 156.1H1024.9V161.1H1015.0ZM1039.9 156.1H1044.8V161.1H1039.9ZM1054.8 156.1H1059.8V161.1H1054.8ZM1079.7 156.1H1084.7V161.1H1079.7ZM995.1 161.1H1000.1V166.0H995.1ZM1015.0 161.1H1020.0V166.0H1015.0ZM1084.7 156.1H1089.6V161.1H1084.7ZM1084.7 166.0H1089.6V185.9H1084.7ZM1084.7 190.9H1089.6V210.8H1084.7ZM1084.7 215.7H1089.6V235.6H1084.7ZM1084.7 240.6H1089.6V260.5H1084.7ZM1084.7 265.4H1089.6V285.3H1084.7ZM1084.7 290.3H1089.6V310.2H1084.7ZM1084.7 315.1H1089.6V335.0H1084.7ZM1084.7 340.0H1089.6V359.9H1084.7ZM1084.7 364.8H1089.6V384.7H1084.7ZM1084.7 389.7H1089.6V409.6H1084.7ZM1084.7 414.5H1089.6V434.4H1084.7ZM1084.7 439.4H1089.6V454.3H1084.7ZM1089.6 449.3H1094.6V568.6H1089.6ZM1099.6 479.1H1104.6V523.9H1099.6ZM1104.6 489.1H1109.5V513.9H1104.6ZM1109.5 489.1H1114.5V494.1H1109.5ZM1119.5 489.1H1124.5V494.1H1119.5ZM1174.2 489.1H1179.2V494.1H1174.2ZM1154.3 504.0H1159.3V509.0H1154.3ZM1209.0 180.9H1214.0V185.9H1209.0ZM1209.0 190.9H1214.0V210.8H1209.0ZM1209.0 215.7H1214.0V235.6H1209.0ZM1209.0 240.6H1214.0V260.5H1209.0ZM1209.0 265.4H1214.0V285.3H1209.0ZM1209.0 290.3H1214.0V310.2H1209.0ZM1209.0 315.1H1214.0V335.0H1209.0ZM1209.0 340.0H1214.0V359.9H1209.0ZM1209.0 364.8H1214.0V384.7H1209.0ZM1209.0 389.7H1214.0V409.6H1209.0ZM1209.0 414.5H1214.0V434.4H1209.0ZM1209.0 439.4H1214.0V459.3H1209.0ZM1209.0 464.2H1214.0V484.1H1209.0ZM1209.0 489.1H1214.0V509.0H1209.0ZM1214.0 131.2H1219.0V185.9H1214.0ZM1224.0 141.2H1228.9V166.0H1224.0ZM1238.9 141.2H1243.9V146.2H1238.9ZM1253.8 141.2H1258.8V146.2H1253.8ZM1248.9 156.1H1253.8V161.1H1248.9ZM1258.8 156.1H1263.8V161.1H1258.8ZM1268.8 156.1H1273.7V161.1H1268.8ZM1233.9 161.1H1238.9V166.0H1233.9ZM1238.9 161.1H1243.9V166.0H1238.9ZM1258.8 161.1H1263.8V166.0H1258.8Z" fill="#3a9799" stroke="#3a9799" stroke-width="0.4"/>
<path d="M99.5 449.3H104.4V509.0H99.5ZM104.4 494.1H109.4V504.0H104.4ZM109.4 494.1H114.4V504.0H109.4ZM114.4 494.1H213.9V504.0H114.4ZM174.1 489.1H189.0V494.1H174.1ZM184.1 504.0H208.9V509.0H184.1ZM218.9 146.2H228.8V171.0H218.9ZM228.8 146.2H233.8V156.1H228.8ZM233.8 146.2H338.3V156.1H233.8ZM233.8 141.2H248.7V146.2H233.8ZM268.6 156.1H283.6V161.1H268.6ZM348.2 449.3H353.2V509.0H348.2ZM353.2 494.1H358.2V504.0H353.2ZM358.2 494.1H363.2V504.0H358.2ZM363.2 494.1H462.7V504.0H363.2ZM467.7 146.2H477.6V171.0H467.7ZM477.6 146.2H482.6V156.1H477.6ZM482.6 146.2H587.1V156.1H482.6ZM572.2 141.2H587.1V146.2H572.2ZM487.6 156.1H502.5V161.1H487.6ZM537.3 156.1H562.2V161.1H537.3ZM597.0 449.3H602.0V509.0H597.0ZM602.0 494.1H607.0V504.0H602.0ZM607.0 494.1H612.0V504.0H607.0ZM612.0 494.1H711.5V504.0H612.0ZM716.5 146.2H726.4V171.0H716.5ZM726.4 146.2H731.4V156.1H726.4ZM731.4 146.2H835.9V156.1H731.4ZM756.3 141.2H771.2V146.2H756.3ZM741.3 156.1H771.2V161.1H741.3ZM845.8 449.3H850.8V509.0H845.8ZM850.8 494.1H855.8V504.0H850.8ZM855.8 494.1H860.7V504.0H855.8ZM860.7 494.1H960.3V504.0H860.7ZM860.7 504.0H875.7V509.0H860.7ZM965.2 146.2H975.2V171.0H965.2ZM975.2 146.2H980.2V156.1H975.2ZM980.2 146.2H1084.7V156.1H980.2ZM990.1 156.1H1010.0V161.1H990.1ZM1094.6 449.3H1099.6V509.0H1094.6ZM1099.6 494.1H1104.6V504.0H1099.6ZM1104.6 494.1H1109.5V504.0H1104.6ZM1109.5 494.1H1209.0V504.0H1109.5ZM1119.5 504.0H1134.4V509.0H1119.5ZM1169.2 504.0H1199.1V509.0H1169.2ZM1214.0 146.2H1224.0V171.0H1214.0ZM1224.0 146.2H1228.9V156.1H1224.0ZM1228.9 146.2H1333.4V156.1H1228.9ZM1228.9 156.1H1243.9V161.1H1228.9ZM1318.5 156.1H1333.4V161.1H1318.5Z" fill="#0ab3b7" stroke="#0ab3b7" stroke-width="1"/>
<path d="M89.5 623.3H94.5V673.0H89.5ZM94.5 668.0H99.5V727.6H94.5ZM99.5 722.7H104.4V782.3H99.5ZM129.3 797.2H134.3V802.2H129.3ZM189.0 797.2H194.0V802.2H189.0ZM204.0 797.2H208.9V802.2H204.0ZM114.4 812.1H119.4V817.1H114.4ZM149.2 812.1H159.2V817.1H149.2ZM164.1 812.1H174.1V817.1H164.1ZM199.0 812.1H208.9V817.1H199.0ZM164.1 817.1H169.1V822.1H164.1ZM169.1 817.1H174.1V822.1H169.1ZM213.9 762.4H218.9V812.1H213.9ZM218.9 717.7H223.9V767.4H218.9ZM223.9 663.0H228.8V722.7H223.9ZM258.7 618.3H268.6V623.3H258.7ZM278.6 618.3H283.6V623.3H278.6ZM248.7 633.2H253.7V638.2H248.7ZM258.7 633.2H263.7V638.2H258.7ZM268.6 633.2H273.6V638.2H268.6ZM278.6 633.2H288.5V638.2H278.6ZM293.5 633.2H298.5V638.2H293.5ZM303.5 633.2H308.4V638.2H303.5ZM313.4 633.2H318.4V638.2H313.4ZM323.4 633.2H328.3V638.2H323.4ZM333.3 633.2H338.3V638.2H333.3ZM268.6 638.2H273.6V643.2H268.6ZM338.3 623.3H343.3V673.0H338.3ZM343.3 668.0H348.2V727.6H343.3ZM348.2 722.7H353.2V782.3H348.2ZM373.1 797.2H378.1V802.2H373.1ZM452.7 797.2H457.7V802.2H452.7ZM363.2 812.1H368.2V817.1H363.2ZM373.1 812.1H383.1V817.1H373.1ZM388.1 812.1H393.0V817.1H388.1ZM398.0 812.1H403.0V817.1H398.0ZM408.0 812.1H412.9V817.1H408.0ZM417.9 812.1H422.9V817.1H417.9ZM427.9 812.1H432.8V817.1H427.9ZM378.1 817.1H383.1V822.1H378.1ZM437.8 817.1H442.8V822.1H437.8ZM462.7 762.4H467.7V812.1H462.7ZM467.7 717.7H472.6V767.4H467.7ZM472.6 663.0H477.6V722.7H472.6ZM582.1 618.3H587.1V623.3H582.1ZM492.5 633.2H497.5V638.2H492.5ZM502.5 633.2H512.4V638.2H502.5ZM517.4 633.2H522.4V638.2H517.4ZM527.4 633.2H532.3V638.2H527.4ZM537.3 633.2H547.3V638.2H537.3ZM587.1 623.3H592.1V673.0H587.1ZM592.1 668.0H597.0V727.6H592.1ZM597.0 722.7H602.0V782.3H597.0ZM636.8 797.2H646.8V802.2H636.8ZM651.8 797.2H656.7V802.2H651.8ZM661.7 797.2H671.7V802.2H661.7ZM612.0 812.1H621.9V817.1H612.0ZM626.9 812.1H631.9V817.1H626.9ZM636.8 812.1H641.8V817.1H636.8ZM701.5 812.1H711.5V817.1H701.5ZM612.0 817.1H616.9V822.1H612.0ZM616.9 817.1H621.9V822.1H616.9ZM666.7 792.3H671.7V797.2H666.7ZM676.6 817.1H681.6V822.1H676.6ZM681.6 817.1H686.6V822.1H681.6ZM701.5 817.1H706.5V822.1H701.5ZM711.5 762.4H716.5V812.1H711.5ZM716.5 717.7H721.4V767.4H716.5ZM721.4 663.0H726.4V722.7H721.4ZM820.9 618.3H830.9V623.3H820.9ZM741.3 633.2H746.3V638.2H741.3ZM751.3 633.2H761.2V638.2H751.3ZM766.2 633.2H771.2V638.2H766.2ZM776.2 633.2H786.1V638.2H776.2ZM791.1 633.2H796.1V638.2H791.1ZM801.0 633.2H811.0V638.2H801.0ZM816.0 633.2H820.9V638.2H816.0ZM825.9 633.2H835.9V638.2H825.9ZM781.1 638.2H786.1V643.2H781.1ZM835.9 623.3H840.8V673.0H835.9ZM840.8 668.0H845.8V727.6H840.8ZM845.8 722.7H850.8V782.3H845.8ZM870.7 797.2H875.7V802.2H870.7ZM880.6 797.2H885.6V802.2H880.6ZM890.6 797.2H895.6V802.2H890.6ZM915.5 797.2H920.5V802.2H915.5ZM865.7 812.1H875.7V817.1H865.7ZM885.6 812.1H895.6V817.1H885.6ZM900.6 812.1H905.5V817.1H900.6ZM910.5 812.1H915.5V817.1H910.5ZM920.5 812.1H925.4V817.1H920.5ZM930.4 812.1H940.4V817.1H930.4ZM945.3 812.1H950.3V817.1H945.3ZM955.3 812.1H960.3V817.1H955.3ZM910.5 817.1H915.5V822.1H910.5ZM920.5 817.1H925.4V822.1H920.5ZM935.4 792.3H940.4V797.2H935.4ZM960.3 762.4H965.2V812.1H960.3ZM965.2 717.7H970.2V767.4H965.2ZM970.2 663.0H975.2V722.7H970.2ZM1005.0 618.3H1015.0V623.3H1005.0ZM990.1 633.2H1000.1V638.2H990.1ZM1064.7 633.2H1069.7V638.2H1064.7ZM1074.7 633.2H1084.7V638.2H1074.7ZM990.1 638.2H995.1V643.2H990.1ZM1074.7 638.2H1079.7V643.2H1074.7ZM1084.7 623.3H1089.6V673.0H1084.7ZM1089.6 668.0H1094.6V727.6H1089.6ZM1094.6 722.7H1099.6V782.3H1094.6ZM1164.3 812.1H1169.2V817.1H1164.3ZM1174.2 812.1H1179.2V817.1H1174.2ZM1184.2 812.1H1194.1V817.1H1184.2ZM1199.1 812.1H1204.1V817.1H1199.1ZM1119.5 817.1H1124.5V822.1H1119.5ZM1164.3 792.3H1169.2V797.2H1164.3ZM1209.0 762.4H1214.0V812.1H1209.0ZM1214.0 717.7H1219.0V767.4H1214.0ZM1219.0 663.0H1224.0V722.7H1219.0ZM1238.9 633.2H1243.9V638.2H1238.9ZM1268.8 633.2H1273.7V638.2H1268.8ZM1278.7 633.2H1283.7V638.2H1278.7ZM1288.7 633.2H1293.6V638.2H1288.7ZM1323.5 633.2H1333.4V638.2H1323.5ZM1238.9 638.2H1243.9V643.2H1238.9ZM1313.5 638.2H1318.5V643.2H1313.5Z" fill="#7e2484" stroke="#7e2484" stroke-width="0.4"/>
<path d="M104.4 777.3H109.4V797.2H104.4ZM109.4 787.3H114.4V807.2H109.4ZM114.4 802.2H213.9V812.1H114.4ZM154.2 797.2H174.1V802.2H154.2ZM124.3 812.1H144.2V817.1H124.3ZM179.1 812.1H194.0V817.1H179.1ZM228.8 648.1H233.8V668.0H228.8ZM233.8 633.2H238.8V653.1H233.8ZM238.8 623.3H243.8V638.2H238.8ZM243.8 623.3H338.3V633.2H243.8ZM353.2 777.3H358.2V797.2H353.2ZM358.2 787.3H363.2V807.2H358.2ZM363.2 802.2H462.7V812.1H363.2ZM437.8 812.1H457.7V817.1H437.8ZM477.6 648.1H482.6V668.0H477.6ZM482.6 633.2H487.6V653.1H482.6ZM487.6 623.3H492.5V638.2H487.6ZM492.5 623.3H587.1V633.2H492.5ZM552.3 633.2H587.1V638.2H552.3ZM602.0 777.3H607.0V797.2H602.0ZM607.0 787.3H612.0V807.2H607.0ZM612.0 802.2H711.5V812.1H612.0ZM691.6 797.2H706.5V802.2H691.6ZM646.8 812.1H671.7V817.1H646.8ZM676.6 812.1H696.5V817.1H676.6ZM726.4 648.1H731.4V668.0H726.4ZM731.4 633.2H736.4V653.1H731.4ZM736.4 623.3H741.3V638.2H736.4ZM741.3 623.3H835.9V633.2H741.3ZM850.8 777.3H855.8V797.2H850.8ZM855.8 787.3H860.7V807.2H855.8ZM860.7 802.2H960.3V812.1H860.7ZM930.4 797.2H955.3V802.2H930.4ZM975.2 648.1H980.2V668.0H975.2ZM980.2 633.2H985.1V653.1H980.2ZM985.1 623.3H990.1V638.2H985.1ZM990.1 623.3H1084.7V633.2H990.1ZM1005.0 633.2H1034.9V638.2H1005.0ZM1039.9 633.2H1059.8V638.2H1039.9ZM1099.6 777.3H1104.6V797.2H1099.6ZM1104.6 787.3H1109.5V807.2H1104.6ZM1109.5 802.2H1209.0V812.1H1109.5ZM1154.3 797.2H1169.2V802.2H1154.3ZM1109.5 812.1H1124.5V817.1H1109.5ZM1129.4 812.1H1159.3V817.1H1129.4ZM1224.0 648.1H1228.9V668.0H1224.0ZM1228.9 633.2H1233.9V653.1H1228.9ZM1233.9 623.3H1238.9V638.2H1233.9ZM1238.9 623.3H1333.4V633.2H1238.9ZM1248.9 633.2H1263.8V638.2H1248.9ZM1298.6 633.2H1318.5V638.2H1298.6Z" fill="#b20cbe" stroke="#b20cbe" stroke-width="1"/>
<path d="M89.5 886.7H94.5V906.6H89.5ZM89.5 911.5H94.5V931.4H89.5ZM89.5 936.4H94.5V946.3H89.5ZM94.5 941.4H99.5V986.1H94.5ZM134.3 986.1H144.2V991.1H134.3ZM154.2 1001.0H159.2V1006.0H154.2ZM164.1 1001.0H169.1V1006.0H164.1ZM179.1 1001.0H184.1V1006.0H179.1ZM189.0 1001.0H194.0V1006.0H189.0ZM199.0 1001.0H204.0V1006.0H199.0ZM208.9 1001.0H213.9V1006.0H208.9ZM134.3 1006.0H139.3V1010.9H134.3ZM139.3 1006.0H144.2V1010.9H139.3ZM179.1 1006.0H184.1V1010.9H179.1ZM213.9 936.4H218.9V1001.0H213.9ZM218.9 911.5H223.9V941.4H218.9ZM238.8 881.7H248.7V886.7H238.8ZM253.7 881.7H263.7V886.7H253.7ZM283.6 881.7H288.5V886.7H283.6ZM313.4 881.7H323.4V886.7H313.4ZM253.7 896.6H258.7V901.6H253.7ZM283.6 896.6H288.5V901.6H283.6ZM293.5 896.6H298.5V901.6H293.5ZM308.4 896.6H318.4V901.6H308.4ZM323.4 896.6H328.3V901.6H323.4ZM333.3 896.6H338.3V901.6H333.3ZM333.3 901.6H338.3V906.6H333.3ZM338.3 886.7H343.3V906.6H338.3ZM338.3 911.5H343.3V931.4H338.3ZM338.3 936.4H343.3V946.3H338.3ZM343.3 941.4H348.2V986.1H343.3ZM383.1 986.1H388.1V991.1H383.1ZM417.9 986.1H422.9V991.1H417.9ZM353.2 1001.0H363.2V1006.0H353.2ZM388.1 1001.0H393.0V1006.0H388.1ZM398.0 1001.0H408.0V1006.0H398.0ZM412.9 1001.0H417.9V1006.0H412.9ZM422.9 1001.0H432.8V1006.0H422.9ZM442.8 1001.0H447.8V1006.0H442.8ZM452.7 1001.0H462.7V1006.0H452.7ZM363.2 981.1H368.2V986.1H363.2ZM383.1 981.1H388.1V986.1H383.1ZM412.9 1006.0H417.9V1010.9H412.9ZM462.7 936.4H467.7V1001.0H462.7ZM467.7 911.5H472.6V941.4H467.7ZM497.5 881.7H502.5V886.7H497.5ZM512.4 881.7H517.4V886.7H512.4ZM537.3 881.7H542.3V886.7H537.3ZM482.6 896.6H492.5V901.6H482.6ZM497.5 896.6H502.5V901.6H497.5ZM532.3 896.6H537.3V901.6H532.3ZM542.3 896.6H547.3V901.6H542.3ZM552.3 896.6H557.2V901.6H552.3ZM562.2 896.6H567.2V901.6H562.2ZM562.2 901.6H567.2V906.6H562.2ZM587.1 886.7H592.1V906.6H587.1ZM587.1 911.5H592.1V931.4H587.1ZM587.1 936.4H592.1V946.3H587.1ZM592.1 941.4H597.0V986.1H592.1ZM646.8 986.1H651.8V991.1H646.8ZM602.0 1001.0H607.0V1006.0H602.0ZM612.0 1001.0H621.9V1006.0H612.0ZM661.7 1001.0H666.7V1006.0H661.7ZM671.7 1001.0H681.6V1006.0H671.7ZM686.6 1001.0H691.6V1006.0H686.6ZM696.5 1001.0H701.5V1006.0H696.5ZM706.5 1001.0H711.5V1006.0H706.5ZM602.0 1006.0H607.0V1010.9H602.0ZM711.5 936.4H716.5V1001.0H711.5ZM716.5 911.5H721.4V941.4H716.5ZM801.0 881.7H811.0V886.7H801.0ZM830.9 881.7H835.9V886.7H830.9ZM731.4 896.6H736.4V901.6H731.4ZM776.2 896.6H781.1V901.6H776.2ZM786.1 896.6H791.1V901.6H786.1ZM796.1 896.6H801.0V901.6H796.1ZM806.0 896.6H811.0V901.6H806.0ZM816.0 896.6H820.9V901.6H816.0ZM825.9 896.6H835.9V901.6H825.9ZM741.3 901.6H746.3V906.6H741.3ZM786.1 901.6H791.1V906.6H786.1ZM830.9 876.7H835.9V881.7H830.9ZM835.9 886.7H840.8V906.6H835.9ZM835.9 911.5H840.8V931.4H835.9ZM835.9 936.4H840.8V946.3H835.9ZM840.8 941.4H845.8V986.1H840.8ZM855.8 986.1H860.7V991.1H855.8ZM875.7 986.1H880.6V991.1H875.7ZM915.5 986.1H920.5V991.1H915.5ZM955.3 986.1H960.3V991.1H955.3ZM870.7 1001.0H880.6V1006.0H870.7ZM885.6 1001.0H890.6V1006.0H885.6ZM895.6 1001.0H900.6V1006.0H895.6ZM905.5 1001.0H915.5V1006.0H905.5ZM920.5 1001.0H930.4V1006.0H920.5ZM935.4 1001.0H940.4V1006.0H935.4ZM945.3 1001.0H950.3V1006.0H945.3ZM955.3 1001.0H960.3V1006.0H955.3ZM960.3 936.4H965.2V1001.0H960.3ZM965.2 911.5H970.2V941.4H965.2ZM1024.9 881.7H1034.9V886.7H1024.9ZM1039.9 881.7H1049.8V886.7H1039.9ZM980.2 896.6H990.1V901.6H980.2ZM1029.9 896.6H1034.9V901.6H1029.9ZM1039.9 896.6H1044.8V901.6H1039.9ZM1049.8 896.6H1054.8V901.6H1049.8ZM1059.8 896.6H1064.7V901.6H1059.8ZM1069.7 896.6H1074.7V901.6H1069.7ZM1079.7 896.6H1084.7V901.6H1079.7ZM1005.0 901.6H1010.0V906.6H1005.0ZM1015.0 901.6H1020.0V906.6H1015.0ZM1084.7 886.7H1089.6V906.6H1084.7ZM1084.7 911.5H1089.6V931.4H1084.7ZM1084.7 936.4H1089.6V946.3H1084.7ZM1089.6 941.4H1094.6V986.1H1089.6ZM1144.4 986.1H1149.3V991.1H1144.4ZM1154.3 986.1H1164.3V991.1H1154.3ZM1169.2 986.1H1174.2V991.1H1169.2ZM1199.1 986.1H1204.1V991.1H1199.1ZM1099.6 1001.0H1104.6V1006.0H1099.6ZM1109.5 1001.0H1114.5V1006.0H1109.5ZM1119.5 1001.0H1129.4V1006.0H1119.5ZM1154.3 1001.0H1164.3V1006.0H1154.3ZM1169.2 1001.0H1174.2V1006.0H1169.2ZM1199.1 1001.0H1209.0V1006.0H1199.1ZM1099.6 1006.0H1104.6V1010.9H1099.6ZM1119.5 1006.0H1124.5V1010.9H1119.5ZM1134.4 1006.0H1139.4V1010.9H1134.4ZM1169.2 981.1H1174.2V986.1H1169.2ZM1199.1 1006.0H1204.1V1010.9H1199.1ZM1209.0 936.4H1214.0V1001.0H1209.0ZM1214.0 911.5H1219.0V941.4H1214.0ZM1253.8 881.7H1263.8V886.7H1253.8ZM1228.9 896.6H1233.9V901.6H1228.9ZM1288.7 896.6H1293.6V901.6H1288.7ZM1298.6 896.6H1308.6V901.6H1298.6ZM1313.5 896.6H1318.5V901.6H1313.5ZM1323.5 896.6H1333.4V901.6H1323.5ZM1243.9 901.6H1248.9V906.6H1243.9ZM1263.8 901.6H1268.8V906.6H1263.8ZM1298.6 901.6H1303.6V906.6H1298.6ZM1313.5 901.6H1318.5V906.6H1313.5Z" fill="#3c8c42" stroke="#3c8c42" stroke-width="0.4"/>
<path d="M99.5 976.1H104.4V996.0H99.5ZM104.4 991.1H213.9V1001.0H104.4ZM184.1 986.1H199.0V991.1H184.1ZM104.4 1001.0H124.3V1006.0H104.4ZM129.3 1001.0H149.2V1006.0H129.3ZM223.9 896.6H228.8V916.5H223.9ZM228.8 886.7H233.8V901.6H228.8ZM233.8 886.7H338.3V896.6H233.8ZM233.8 896.6H248.7V901.6H233.8ZM263.7 896.6H278.6V901.6H263.7ZM348.2 976.1H353.2V996.0H348.2ZM353.2 991.1H462.7V1001.0H353.2ZM358.2 986.1H373.1V991.1H358.2ZM432.8 986.1H447.8V991.1H432.8ZM368.2 1001.0H383.1V1006.0H368.2ZM472.6 896.6H477.6V916.5H472.6ZM477.6 886.7H482.6V901.6H477.6ZM482.6 886.7H587.1V896.6H482.6ZM507.5 896.6H527.4V901.6H507.5ZM572.2 896.6H587.1V901.6H572.2ZM597.0 976.1H602.0V996.0H597.0ZM602.0 991.1H711.5V1001.0H602.0ZM661.7 986.1H681.6V991.1H661.7ZM686.6 986.1H706.5V991.1H686.6ZM626.9 1001.0H651.8V1006.0H626.9ZM721.4 896.6H726.4V916.5H721.4ZM726.4 886.7H731.4V901.6H726.4ZM731.4 886.7H835.9V896.6H731.4ZM776.2 881.7H791.1V886.7H776.2ZM741.3 896.6H771.2V901.6H741.3ZM845.8 976.1H850.8V996.0H845.8ZM850.8 991.1H960.3V1001.0H850.8ZM850.8 1001.0H865.7V1006.0H850.8ZM970.2 896.6H975.2V916.5H970.2ZM975.2 886.7H980.2V901.6H975.2ZM980.2 886.7H1084.7V896.6H980.2ZM995.1 896.6H1024.9V901.6H995.1ZM1094.6 976.1H1099.6V996.0H1094.6ZM1099.6 991.1H1209.0V1001.0H1099.6ZM1114.5 986.1H1129.4V991.1H1114.5ZM1134.4 1001.0H1149.3V1006.0H1134.4ZM1179.2 1001.0H1194.1V1006.0H1179.2ZM1219.0 896.6H1224.0V916.5H1219.0ZM1224.0 886.7H1228.9V901.6H1224.0ZM1228.9 886.7H1333.4V896.6H1228.9ZM1238.9 896.6H1283.7V901.6H1238.9Z" fill="#12b21a" stroke="#12b21a" stroke-width="1"/>
<path d="M288.7 77.8h4.97v4.97h-4.97zM298.6 77.8h4.97v4.97h-4.97zM308.6 77.8h4.97v4.97h-4.97zM343.4 77.8h4.97v4.97h-4.97zM353.4 77.8h4.97v4.97h-4.97zM363.3 77.8h4.97v4.97h-4.97zM373.3 77.8h4.97v4.97h-4.97zM293.7 72.8h4.97v4.97h-4.97zM303.6 72.8h4.97v4.97h-4.97zM348.4 72.8h4.97v4.97h-4.97zM358.3 72.8h4.97v4.97h-4.97zM368.3 72.8h4.97v4.97h-4.97zM323.5 33.0h4.97v4.97h-4.97zM333.5 33.0h4.97v4.97h-4.97zM318.6 38.0h4.97v4.97h-4.97zM328.5 38.0h4.97v4.97h-4.97zM313.6 33.0h4.97v4.97h-4.97zM313.6 38.0h4.97v4.97h-4.97zM313.6 43.0h4.97v4.97h-4.97zM313.6 47.9h4.97v4.97h-4.97zM313.6 52.9h4.97v4.97h-4.97zM313.6 57.9h4.97v4.97h-4.97zM313.6 62.8h4.97v4.97h-4.97zM313.6 67.8h4.97v4.97h-4.97zM313.6 72.8h4.97v4.97h-4.97zM338.4 38.0h4.97v4.97h-4.97zM338.4 43.0h4.97v4.97h-4.97zM338.4 47.9h4.97v4.97h-4.97zM338.4 52.9h4.97v4.97h-4.97zM338.4 57.9h4.97v4.97h-4.97zM338.4 62.8h4.97v4.97h-4.97zM338.4 67.8h4.97v4.97h-4.97zM338.4 72.8h4.97v4.97h-4.97z" fill="#111"/>
<polygon points="695.7,106.5 732.5,106.5 714.1,126.5" fill="#0a0a0a"/>
<rect x="711.6" y="92" width="5" height="16" fill="#0a0a0a"/>
<path d="M70.5,322 L86,334 L70.5,346 Z M84,331.5 H93 V336.5 H84 Z" fill="#1aa5a0"/>
<path d="M70.5,710.5 L86,720.6 L70.5,730.5 Z M84,718.1 H92 V723.1 H84 Z" fill="#a010b0"/>
<path d="M70.5,931.5 L86,941.3 L70.5,951 Z M84,938.8 H94 V943.8 H84 Z" fill="#14b01c"/>
<path d="M1305,333 L1323,318 L1323,348 Z M1320,330.5 H1338 V335.5 H1320 Z" fill="#12a5a8"/>
<path d="M1284,1129 H1292 L1309,1101 H1322" stroke="#2a9fa2" stroke-width="4" fill="none"/>
<path d="M547.6 33H572.5V38H577.4V42.9H582.4V67.8H577.4V72.8H572.5V77.7H547.6V72.8H542.7V67.8H537.7V42.9H542.7V38H547.6Z" fill="#cc0a14"/>
</g>
<g fill="#c4c4c4">
<rect x="1369" y="87.5" width="228" height="3.5"/>
<rect x="1369" y="287" width="228" height="3.5"/>
<rect x="1369" y="485.5" width="228" height="3.5"/>
<rect x="1369" y="685" width="228" height="3.5"/>
<rect x="1369" y="883.5" width="228" height="3.5"/>
<rect x="1369" y="1082.5" width="228" height="3.5"/>
</g>
<g>
<text filter="url(#soft)" x="43.5" y="81.8" font-family="'Liberation Serif', serif" font-weight="bold" font-size="76.92" fill="#0c0c0c" stroke="#0c0c0c" stroke-width="0.6" textLength="42.6" lengthAdjust="spacingAndGlyphs">T</text><text filter="url(#soft)" x="76.4" y="82.5" font-family="'Liberation Serif', serif" font-weight="bold" font-size="75.53" fill="#0c0c0c" stroke="#0c0c0c" stroke-width="0.6" textLength="34.8" lengthAdjust="spacingAndGlyphs">e</text><text filter="url(#soft)" x="111.4" y="81.8" font-family="'Liberation Serif', serif" font-weight="bold" font-size="71.3" fill="#0c0c0c" stroke="#0c0c0c" stroke-width="0.6" textLength="47.8" lengthAdjust="spacingAndGlyphs">k</text><text filter="url(#hf6d2d2)" x="599.0" y="72.3" font-family="'Liberation Sans', sans-serif" font-weight="normal" font-size="51.14" fill="#7c1222" stroke="#7c1222" stroke-width="0.9" textLength="96.0" lengthAdjust="spacingAndGlyphs">Stop</text><text filter="url(#soft)" x="930.2" y="71.6" font-family="'Liberation Sans', sans-serif" font-weight="normal" font-size="56.67" fill="#141414" stroke="#141414" stroke-width="0.9" textLength="45.1" lengthAdjust="spacingAndGlyphs">M</text><text filter="url(#soft)" x="985.8" y="71.6" font-family="'Liberation Sans', sans-serif" font-weight="normal" font-size="56.67" fill="#141414" stroke="#141414" stroke-width="0.9" textLength="83.9" lengthAdjust="spacingAndGlyphs">Pos:</text><text filter="url(#soft)" x="1083.3" y="71.6" font-family="'Liberation Sans', sans-serif" font-weight="normal" font-size="55.86" fill="#141414" stroke="#141414" stroke-width="0.9" textLength="128.0" lengthAdjust="spacingAndGlyphs">0.000s</text><text filter="url(#soft)" x="1390.8" y="70.0" font-family="'Liberation Sans', sans-serif" font-weight="normal" font-size="52.0" fill="#141414" stroke="#141414" stroke-width="0.9" textLength="189.5" lengthAdjust="spacingAndGlyphs">MEDIDAS</text><text filter="url(#hffe6a8)" x="1439.6" y="145.0" font-family="'Liberation Sans', sans-serif" font-weight="normal" font-size="52.29" fill="#dc9f3c" stroke="#dc9f3c" stroke-width="1.0" textLength="82.4" lengthAdjust="spacingAndGlyphs">CH1</text><text filter="url(#hffe6a8)" x="1433.6" y="205.0" font-family="'Liberation Sans', sans-serif" font-weight="normal" font-size="52.14" fill="#dc9f3c" stroke="#dc9f3c" stroke-width="1.0" textLength="98.8" lengthAdjust="spacingAndGlyphs">RMS</text><text filter="url(#hffe6a8)" x="1427.8" y="265.4" font-family="'Liberation Sans', sans-serif" font-weight="normal" font-size="54.86" fill="#dc9f3c" stroke="#dc9f3c" stroke-width="1.0" textLength="111.3" lengthAdjust="spacingAndGlyphs">41.6V</text><text filter="url(#hbff6f6)" x="1440.7" y="345.2" font-family="'Liberation Sans', sans-serif" font-weight="normal" font-size="55.29" fill="#2a9fa2" stroke="#2a9fa2" stroke-width="1.0" textLength="86.1" lengthAdjust="spacingAndGlyphs">CH2</text><text filter="url(#hbff6f6)" x="1435.3" y="404.0" font-family="'Liberation Sans', sans-serif" font-weight="normal" font-size="53.86" fill="#2a9fa2" stroke="#2a9fa2" stroke-width="1.0" textLength="96.1" lengthAdjust="spacingAndGlyphs">RMS</text><text filter="url(#hbff6f6)" x="1431.6" y="465.0" font-family="'Liberation Sans', sans-serif" font-weight="normal" font-size="55.71" fill="#2a9fa2" stroke="#2a9fa2" stroke-width="1.0" textLength="102.1" lengthAdjust="spacingAndGlyphs">697V</text><text filter="url(#hf6c6f6)" x="1439.5" y="545.0" font-family="'Liberation Sans', sans-serif" font-weight="normal" font-size="52.29" fill="#8a2a8c" stroke="#8a2a8c" stroke-width="1.0" textLength="86.6" lengthAdjust="spacingAndGlyphs">CH3</text><text filter="url(#hf6c6f6)" x="1433.0" y="603.6" font-family="'Liberation Sans', sans-serif" font-weight="normal" font-size="55.14" fill="#8a2a8c" stroke="#8a2a8c" stroke-width="1.0" textLength="99.1" lengthAdjust="spacingAndGlyphs">RMS</text><text filter="url(#hf6c6f6)" x="1424.6" y="663.0" font-family="'Liberation Sans', sans-serif" font-weight="normal" font-size="56.14" fill="#8a2a8c" stroke="#8a2a8c" stroke-width="1.0" textLength="115.9" lengthAdjust="spacingAndGlyphs">6.83A</text><text filter="url(#hc6f6c6)" x="1439.6" y="744.0" font-family="'Liberation Sans', sans-serif" font-weight="normal" font-size="52.86" fill="#2f9c38" stroke="#2f9c38" stroke-width="1.0" textLength="85.9" lengthAdjust="spacingAndGlyphs">CH4</text><text filter="url(#hc6f6c6)" x="1433.7" y="802.0" font-family="'Liberation Sans', sans-serif" font-weight="normal" font-size="54.29" fill="#2f9c38" stroke="#2f9c38" stroke-width="1.0" textLength="98.4" lengthAdjust="spacingAndGlyphs">RMS</text><text filter="url(#hc6f6c6)" x="1412.7" y="862.5" font-family="'Liberation Sans', sans-serif" font-weight="normal" font-size="55.0" fill="#2f9c38" stroke="#2f9c38" stroke-width="1.0" textLength="140.5" lengthAdjust="spacingAndGlyphs">400mA</text><text filter="url(#hffe6a8)" x="1439.8" y="971.6" font-family="'Liberation Sans', sans-serif" font-weight="normal" font-size="55.14" fill="#dc9f3c" stroke="#dc9f3c" stroke-width="1.0" textLength="81.7" lengthAdjust="spacingAndGlyphs">CH1</text><text filter="url(#hffe6a8)" x="1398.6" y="1031.6" font-family="'Liberation Sans', sans-serif" font-weight="normal" font-size="52.88" fill="#dc9f3c" stroke="#dc9f3c" stroke-width="1.0" textLength="165.3" lengthAdjust="spacingAndGlyphs">Ninguna</text><text filter="url(#hffe6a8)" x="42.2" y="1130.0" font-family="'Liberation Sans', sans-serif" font-weight="normal" font-size="53.57" fill="#dc9f3c" stroke="#dc9f3c" stroke-width="1.0" textLength="81.0" lengthAdjust="spacingAndGlyphs">CH1</text><text filter="url(#hffe6a8)" x="155.7" y="1130.0" font-family="'Liberation Sans', sans-serif" font-weight="normal" font-size="53.57" fill="#dc9f3c" stroke="#dc9f3c" stroke-width="1.0" textLength="103.2" lengthAdjust="spacingAndGlyphs">100V</text><text filter="url(#hbff6f6)" x="370.6" y="1130.0" font-family="'Liberation Sans', sans-serif" font-weight="normal" font-size="53.57" fill="#2a9fa2" stroke="#2a9fa2" stroke-width="1.0" textLength="84.9" lengthAdjust="spacingAndGlyphs">CH2</text><text filter="url(#hbff6f6)" x="484.3" y="1130.0" font-family="'Liberation Sans', sans-serif" font-weight="normal" font-size="53.57" fill="#2a9fa2" stroke="#2a9fa2" stroke-width="1.0" textLength="103.3" lengthAdjust="spacingAndGlyphs">500V</text><text filter="url(#hf6c6f6)" x="42.1" y="1190.0" font-family="'Liberation Sans', sans-serif" font-weight="normal" font-size="53.14" fill="#8a2a8c" stroke="#8a2a8c" stroke-width="1.0" textLength="85.8" lengthAdjust="spacingAndGlyphs">CH3</text><text filter="url(#hf6c6f6)" x="155.7" y="1190.0" font-family="'Liberation Sans', sans-serif" font-weight="normal" font-size="53.14" fill="#8a2a8c" stroke="#8a2a8c" stroke-width="1.0" textLength="113.9" lengthAdjust="spacingAndGlyphs">10.0A</text><text filter="url(#hc6f6c6)" x="370.6" y="1190.0" font-family="'Liberation Sans', sans-serif" font-weight="normal" font-size="53.14" fill="#2f9c38" stroke="#2f9c38" stroke-width="1.0" textLength="85.4" lengthAdjust="spacingAndGlyphs">CH4</text><text filter="url(#hc6f6c6)" x="482.7" y="1190.0" font-family="'Liberation Sans', sans-serif" font-weight="normal" font-size="53.14" fill="#2f9c38" stroke="#2f9c38" stroke-width="1.0" textLength="113.9" lengthAdjust="spacingAndGlyphs">1.00A</text><text filter="url(#soft)" x="701.4" y="1131.6" font-family="'Liberation Sans', sans-serif" font-weight="normal" font-size="58.84" fill="#141414" stroke="#141414" stroke-width="0.9" textLength="45.2" lengthAdjust="spacingAndGlyphs">M</text><text filter="url(#soft)" x="759.8" y="1131.6" font-family="'Liberation Sans', sans-serif" font-weight="normal" font-size="58.0" fill="#141414" stroke="#141414" stroke-width="0.9" textLength="82.6" lengthAdjust="spacingAndGlyphs">25.0</text><text clip-path="url(#muclip)" filter="url(#soft)" x="847.7" y="1131.6" font-family="'Liberation Sans', sans-serif" font-weight="normal" font-size="56.67" fill="#141414" stroke="#141414" stroke-width="0.9" textLength="51.0" lengthAdjust="spacingAndGlyphs">µs</text><text filter="url(#hbff6f6)" x="1181.2" y="1131.0" font-family="'Liberation Sans', sans-serif" font-weight="normal" font-size="52.86" fill="#2a9fa2" stroke="#2a9fa2" stroke-width="1.0" textLength="85.0" lengthAdjust="spacingAndGlyphs">CH2</text><text filter="url(#hbff6f6)" x="1341.5" y="1131.7" font-family="'Liberation Sans', sans-serif" font-weight="normal" font-size="56.71" fill="#2a9fa2" stroke="#2a9fa2" stroke-width="1.0" textLength="173.8" lengthAdjust="spacingAndGlyphs">−380mV</text><text filter="url(#hbff6f6)" x="1184.0" y="1192.0" font-family="'Liberation Sans', sans-serif" font-weight="normal" font-size="50.0" fill="#2a9fa2" stroke="#2a9fa2" stroke-width="1.0" textLength="131.8" lengthAdjust="spacingAndGlyphs">&lt;10Hz</text><text filter="url(#hfff0b0)" x="48.1" y="350.0" font-family="'Liberation Sans', sans-serif" font-weight="normal" font-size="49.28" fill="#c8a838" stroke="#c8a838" stroke-width="1.0" textLength="13.1" lengthAdjust="spacingAndGlyphs">1</text><text filter="url(#hc8f4e8)" x="43.7" y="350.0" font-family="'Liberation Sans', sans-serif" font-weight="normal" font-size="50.71" fill="#3f9a86" stroke="#3f9a86" stroke-width="1.0" textLength="21.8" lengthAdjust="spacingAndGlyphs">2</text><text filter="url(#hf6c6f6)" x="43.7" y="737.0" font-family="'Liberation Sans', sans-serif" font-weight="normal" font-size="47.14" fill="#8a2a8c" stroke="#8a2a8c" stroke-width="1.0" textLength="24.2" lengthAdjust="spacingAndGlyphs">3</text><text filter="url(#hc6f6c6)" x="44.7" y="957.0" font-family="'Liberation Sans', sans-serif" font-weight="normal" font-size="48.7" fill="#2f9c38" stroke="#2f9c38" stroke-width="1.0" textLength="22.0" lengthAdjust="spacingAndGlyphs">4</text>
</g>
</svg>
</body></html>
